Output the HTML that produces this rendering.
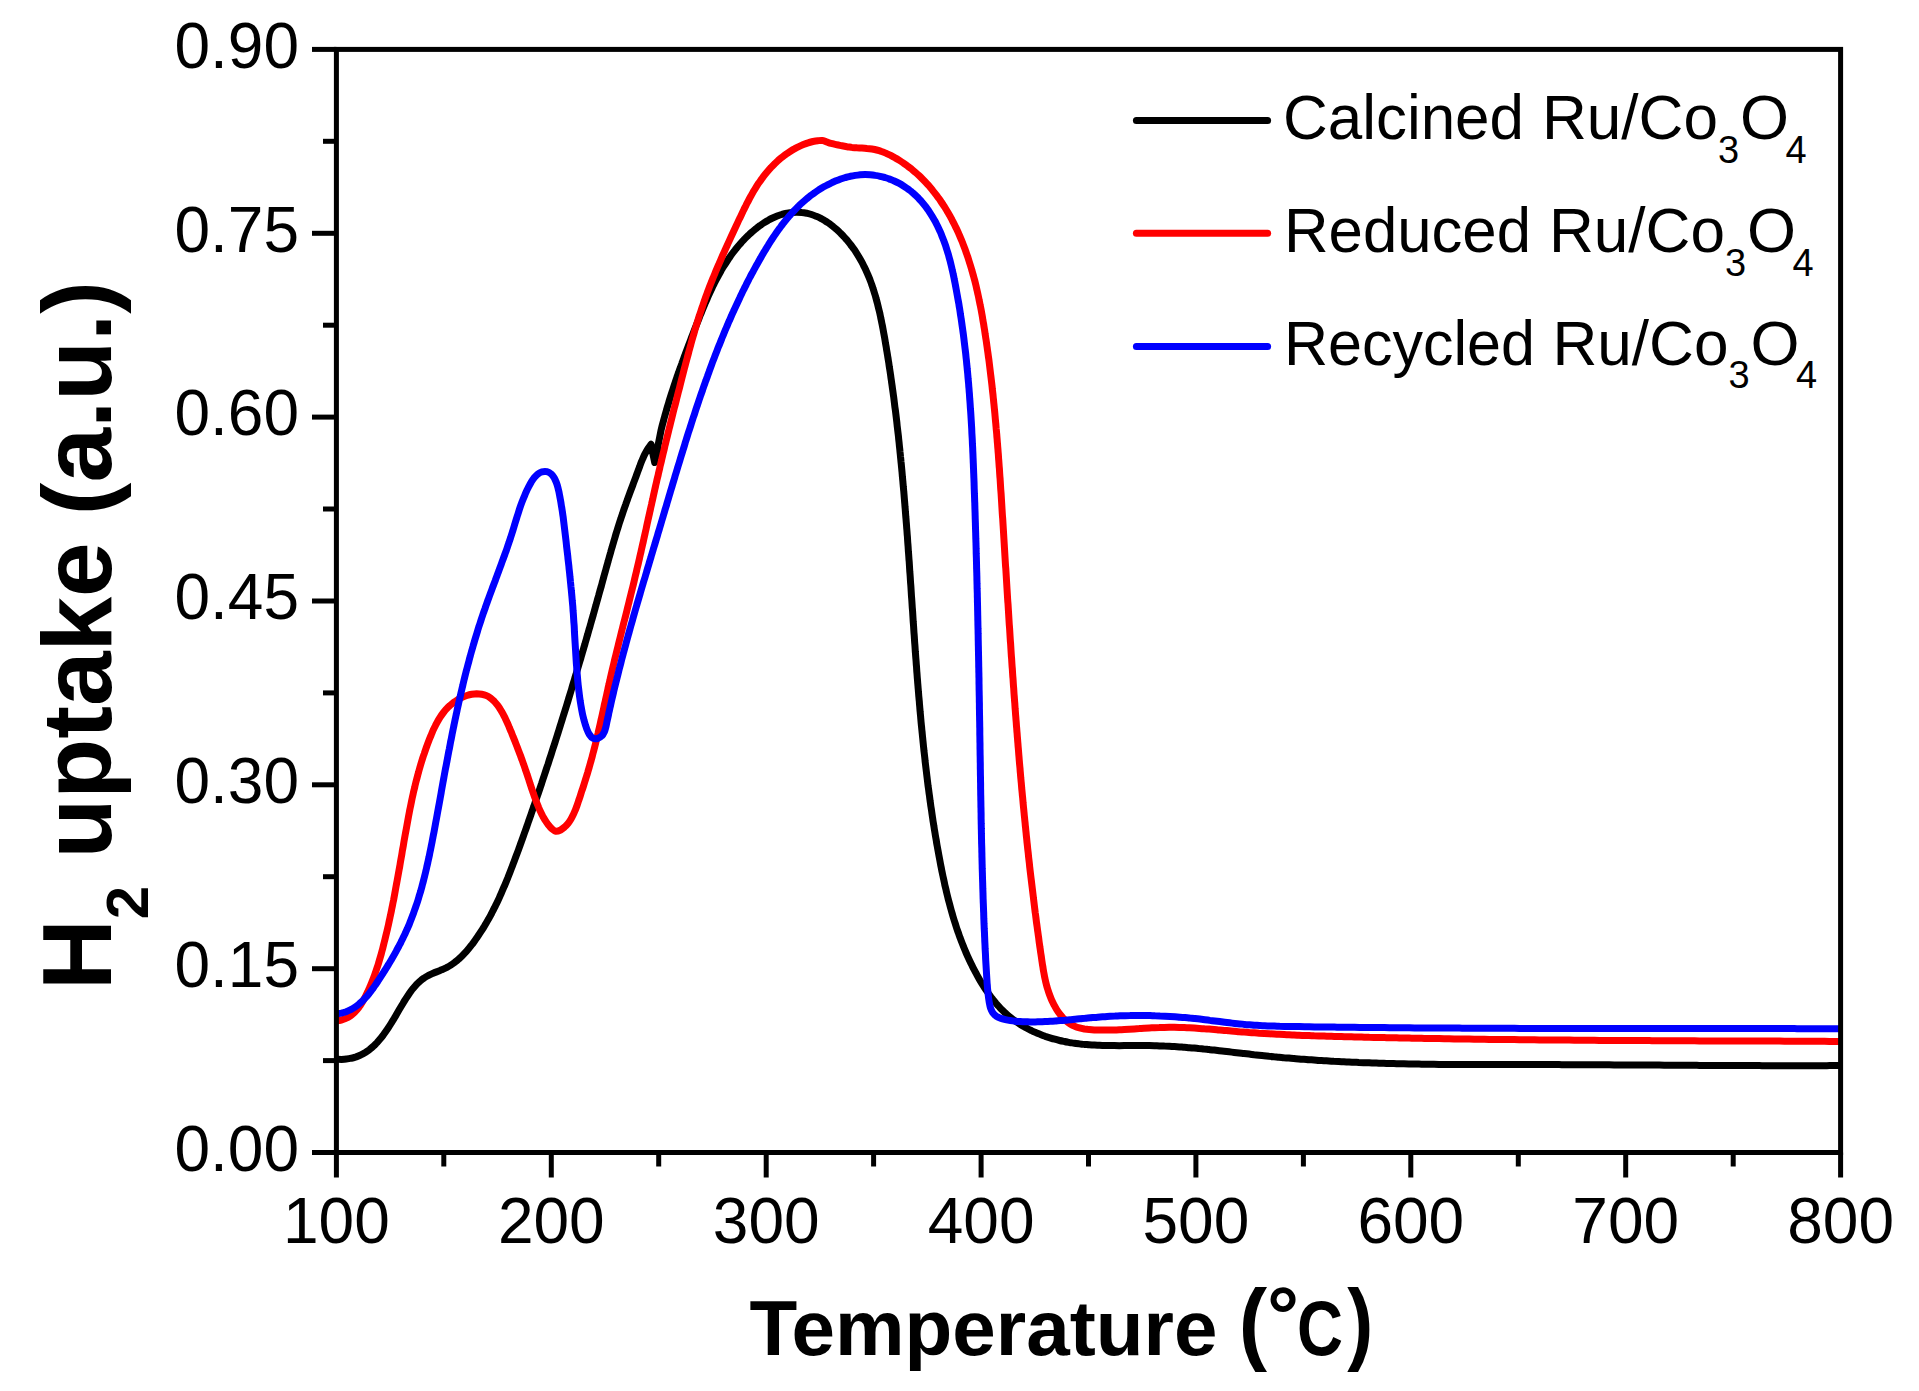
<!DOCTYPE html>
<html lang="en"><head><meta charset="utf-8"><title>H2-TPR profiles</title>
<style>html,body{margin:0;padding:0;background:#fff}body{width:1919px;height:1391px;overflow:hidden}svg{display:block}text{font-family:"Liberation Sans",sans-serif;fill:#000}.b{font-weight:bold}</style></head><body>
<svg width="1919" height="1391" viewBox="0 0 1919 1391">
<rect width="1919" height="1391" fill="#fff"/>
<g fill="none" stroke-width="7" stroke-linejoin="round" stroke-linecap="butt">
<path stroke="#000" d="M336.4 1059.2C337.2 1059.2 339.7 1059.4 341.4 1059.4C343.1 1059.3 344.8 1059.2 346.4 1059.0C348.1 1058.9 349.8 1058.6 351.4 1058.2C353.0 1057.9 354.6 1057.4 356.2 1056.9C357.8 1056.3 359.4 1055.7 360.9 1054.9C362.4 1054.2 363.8 1053.4 365.3 1052.5C366.7 1051.6 368.1 1050.7 369.4 1049.7C370.7 1048.6 372.0 1047.5 373.2 1046.4C374.5 1045.3 375.6 1044.1 376.8 1042.9C377.9 1041.7 379.0 1040.4 380.1 1039.1C381.2 1037.8 382.2 1036.5 383.2 1035.1C384.2 1033.8 385.2 1032.4 386.1 1031.1C387.1 1029.7 388.0 1028.3 388.9 1026.9C389.8 1025.5 390.7 1024.0 391.6 1022.6C392.4 1021.2 393.3 1019.7 394.2 1018.3C395.0 1016.9 395.9 1015.4 396.7 1014.0C397.6 1012.5 398.4 1011.1 399.2 1009.6C400.1 1008.2 400.9 1006.7 401.8 1005.3C402.7 1003.9 403.5 1002.4 404.4 1001.0C405.3 999.6 406.2 998.2 407.1 996.8C408.0 995.4 409.0 994.0 409.9 992.6C410.9 991.3 411.9 989.9 413.0 988.6C414.0 987.3 415.1 986.0 416.2 984.8C417.4 983.6 418.6 982.4 419.8 981.3C421.1 980.2 422.4 979.1 423.8 978.2C425.1 977.2 426.6 976.3 428.1 975.6C429.5 974.8 431.1 974.1 432.6 973.4C434.1 972.8 435.7 972.2 437.3 971.6C438.8 970.9 440.4 970.4 441.9 969.7C443.5 969.0 445.0 968.3 446.5 967.6C448.0 966.8 449.4 966.0 450.8 965.1C452.2 964.2 453.6 963.2 454.9 962.2C456.3 961.2 457.6 960.1 458.8 959.0C460.1 957.9 461.3 956.7 462.5 955.5C463.7 954.3 464.8 953.1 465.9 951.9C467.0 950.6 468.1 949.3 469.2 948.0C470.2 946.7 471.3 945.4 472.3 944.1C473.3 942.7 474.3 941.4 475.3 940.0C476.2 938.7 477.2 937.3 478.1 935.9C479.1 934.5 480.0 933.1 480.9 931.7C481.8 930.3 482.7 928.9 483.6 927.5C484.5 926.0 485.3 924.6 486.2 923.2C487.0 921.7 487.8 920.3 488.7 918.8C489.5 917.3 490.3 915.9 491.1 914.4C491.8 912.9 492.6 911.4 493.4 909.9C494.1 908.4 494.9 906.9 495.6 905.4C496.4 903.9 497.1 902.4 497.8 900.9C498.5 899.4 499.2 897.9 499.9 896.3C500.6 894.8 501.3 893.3 501.9 891.7C502.6 890.2 503.3 888.7 503.9 887.1C504.6 885.6 505.2 884.0 505.9 882.5C506.5 880.9 507.1 879.4 507.8 877.8C508.4 876.3 509.0 874.7 509.6 873.2C510.2 871.6 510.8 870.0 511.4 868.5C512.0 866.9 512.6 865.4 513.2 863.8C513.8 862.2 514.4 860.7 515.0 859.1C515.6 857.5 516.2 855.9 516.7 854.4C517.3 852.8 517.9 851.2 518.5 849.7C519.0 848.1 519.6 846.5 520.2 844.9C520.8 843.4 521.3 841.8 521.9 840.2C522.5 838.6 523.0 837.1 523.6 835.5C524.2 833.9 524.7 832.3 525.3 830.8C525.9 829.2 526.4 827.6 527.0 826.0C527.5 824.4 528.1 822.9 528.6 821.3C529.2 819.7 529.7 818.1 530.3 816.5C530.9 815.0 531.4 813.4 531.9 811.8C532.5 810.2 533.0 808.6 533.6 807.0C534.1 805.5 534.7 803.9 535.2 802.3C535.8 800.7 536.3 799.1 536.8 797.5C537.4 795.9 537.9 794.4 538.5 792.8C539.0 791.2 539.5 789.6 540.1 788.0C540.6 786.4 541.1 784.8 541.7 783.2C542.2 781.7 542.7 780.1 543.2 778.5C543.8 776.9 544.3 775.3 544.8 773.7C545.4 772.1 545.9 770.5 546.4 768.9C546.9 767.3 547.4 765.7 548.0 764.2C548.5 762.6 549.0 761.0 549.5 759.4C550.0 757.8 550.6 756.2 551.1 754.6C551.6 753.0 552.1 751.4 552.6 749.8C553.1 748.2 553.6 746.6 554.2 745.0C554.7 743.4 555.2 741.8 555.7 740.2C556.2 738.7 556.7 737.1 557.2 735.5C557.7 733.9 558.2 732.3 558.7 730.7C559.2 729.1 559.7 727.5 560.2 725.9C560.7 724.3 561.2 722.7 561.7 721.1C562.2 719.5 562.7 717.9 563.2 716.3C563.7 714.7 564.2 713.1 564.7 711.5C565.2 709.9 565.7 708.3 566.2 706.7C566.7 705.1 567.2 703.5 567.7 701.9C568.2 700.3 568.6 698.7 569.1 697.1C569.6 695.5 570.1 693.9 570.6 692.3C571.1 690.7 571.6 689.1 572.0 687.5C572.5 685.8 573.0 684.2 573.5 682.6C574.0 681.0 574.5 679.4 574.9 677.8C575.4 676.2 575.9 674.6 576.4 673.0C576.9 671.4 577.3 669.8 577.8 668.2C578.3 666.6 578.8 665.0 579.2 663.4C579.7 661.8 580.2 660.2 580.7 658.6C581.1 656.9 581.6 655.3 582.1 653.7C582.5 652.1 583.0 650.5 583.5 648.9C583.9 647.3 584.4 645.7 584.9 644.1C585.3 642.5 585.8 640.9 586.3 639.3C586.7 637.6 587.2 636.0 587.7 634.4C588.1 632.8 588.6 631.2 589.0 629.6C589.5 628.0 590.0 626.4 590.4 624.8C590.9 623.2 591.3 621.5 591.8 619.9C592.3 618.3 592.7 616.7 593.2 615.1C593.6 613.5 594.1 611.9 594.5 610.3C595.0 608.6 595.4 607.0 595.9 605.4C596.3 603.8 596.8 602.2 597.2 600.6C597.7 599.0 598.1 597.4 598.6 595.7C599.0 594.1 599.5 592.5 599.9 590.9C600.4 589.3 600.8 587.7 601.3 586.1C601.7 584.4 602.2 582.8 602.6 581.2C603.1 579.6 603.5 578.0 603.9 576.4C604.4 574.8 604.8 573.1 605.3 571.5C605.7 569.9 606.2 568.3 606.6 566.7C607.1 565.1 607.5 563.5 608.0 561.8C608.4 560.2 608.9 558.6 609.3 557.0C609.8 555.4 610.2 553.8 610.7 552.2C611.1 550.6 611.6 548.9 612.1 547.3C612.5 545.7 613.0 544.1 613.5 542.5C613.9 540.9 614.4 539.3 614.9 537.7C615.4 536.1 615.8 534.5 616.3 532.9C616.8 531.3 617.3 529.7 617.8 528.1C618.3 526.5 618.8 524.9 619.3 523.3C619.8 521.7 620.3 520.1 620.9 518.5C621.4 516.9 621.9 515.3 622.5 513.7C623.0 512.1 623.5 510.6 624.1 509.0C624.6 507.4 625.2 505.8 625.8 504.2C626.3 502.7 626.9 501.1 627.5 499.5C628.0 497.9 628.6 496.4 629.2 494.8C629.7 493.2 630.3 491.6 630.9 490.1C631.5 488.5 632.1 486.9 632.7 485.4C633.2 483.8 633.8 482.2 634.4 480.7C635.0 479.1 635.6 477.5 636.2 475.9C636.8 474.4 637.3 472.8 637.9 471.2C638.5 469.7 639.1 468.1 639.7 466.5C640.2 465.0 640.8 463.4 641.4 461.8C642.1 460.3 642.7 458.7 643.4 457.2C644.1 455.7 644.8 454.1 645.6 452.7C646.3 451.2 647.2 449.7 648.1 448.3C649.0 446.9 650.6 445.0 651.1 444.3L652.5 452.0L654.7 462.5L656.8 457.0L658.2 444.7L661.1 430.0C661.3 429.2 661.9 426.8 662.3 425.1C662.7 423.5 663.2 421.9 663.6 420.3C664.0 418.7 664.5 417.1 664.9 415.5C665.4 413.9 665.8 412.3 666.3 410.7C666.8 409.1 667.2 407.5 667.7 405.9C668.2 404.3 668.7 402.7 669.1 401.1C669.6 399.5 670.1 397.9 670.6 396.3C671.1 394.7 671.6 393.1 672.2 391.5C672.7 389.9 673.2 388.3 673.7 386.8C674.2 385.2 674.8 383.6 675.3 382.0C675.8 380.4 676.4 378.8 676.9 377.3C677.5 375.7 678.0 374.1 678.6 372.5C679.1 371.0 679.7 369.4 680.3 367.8C680.8 366.3 681.4 364.7 682.0 363.1C682.5 361.6 683.1 360.0 683.7 358.4C684.3 356.9 684.8 355.3 685.4 353.7C686.0 352.2 686.6 350.6 687.2 349.0C687.8 347.5 688.4 345.9 688.9 344.4C689.5 342.8 690.1 341.2 690.7 339.7C691.3 338.1 691.9 336.6 692.5 335.0C693.1 333.4 693.7 331.9 694.3 330.3C694.9 328.8 695.5 327.2 696.1 325.7C696.7 324.1 697.4 322.6 698.0 321.0C698.6 319.4 699.2 317.9 699.8 316.3C700.4 314.8 701.0 313.2 701.7 311.7C702.3 310.2 702.9 308.6 703.6 307.1C704.2 305.5 704.9 304.0 705.5 302.5C706.2 300.9 706.8 299.4 707.5 297.9C708.2 296.3 708.9 294.8 709.6 293.3C710.2 291.8 711.0 290.3 711.7 288.8C712.4 287.2 713.1 285.7 713.9 284.3C714.6 282.8 715.4 281.3 716.1 279.8C716.9 278.3 717.7 276.8 718.5 275.4C719.3 273.9 720.1 272.5 720.9 271.0C721.8 269.6 722.6 268.1 723.5 266.7C724.4 265.3 725.3 263.9 726.2 262.5C727.1 261.1 728.0 259.7 728.9 258.3C729.9 256.9 730.9 255.6 731.8 254.2C732.8 252.9 733.8 251.5 734.9 250.2C735.9 248.9 737.0 247.6 738.0 246.3C739.1 245.1 740.2 243.8 741.3 242.6C742.4 241.3 743.6 240.1 744.7 238.9C745.9 237.7 747.1 236.5 748.3 235.4C749.5 234.2 750.7 233.1 752.0 232.0C753.2 230.9 754.5 229.8 755.8 228.8C757.1 227.7 758.4 226.7 759.8 225.7C761.1 224.8 762.5 223.8 763.9 222.9C765.3 222.0 766.7 221.1 768.2 220.3C769.6 219.5 771.1 218.7 772.6 218.0C774.1 217.3 775.7 216.6 777.2 216.0C778.8 215.4 780.4 214.8 782.0 214.4C783.6 213.9 785.2 213.5 786.8 213.2C788.5 212.9 790.1 212.6 791.8 212.5C793.4 212.3 795.1 212.2 796.8 212.2C798.4 212.2 800.1 212.3 801.8 212.5C803.4 212.6 805.1 212.9 806.7 213.2C808.3 213.6 810.0 214.0 811.5 214.5C813.1 215.0 814.7 215.6 816.2 216.3C817.8 216.9 819.3 217.6 820.8 218.4C822.2 219.2 823.7 220.0 825.1 220.9C826.5 221.7 827.9 222.7 829.3 223.6C830.6 224.6 832.0 225.6 833.3 226.7C834.6 227.7 835.8 228.8 837.1 229.9C838.3 231.0 839.5 232.2 840.7 233.4C841.9 234.5 843.1 235.7 844.2 237.0C845.3 238.2 846.4 239.5 847.5 240.7C848.6 242.0 849.6 243.3 850.6 244.6C851.6 246.0 852.6 247.3 853.6 248.7C854.6 250.0 855.5 251.4 856.4 252.8C857.3 254.2 858.2 255.6 859.0 257.1C859.9 258.5 860.7 259.9 861.5 261.4C862.3 262.9 863.1 264.4 863.8 265.9C864.6 267.3 865.3 268.9 866.0 270.4C866.7 271.9 867.4 273.4 868.0 275.0C868.7 276.5 869.3 278.0 869.9 279.6C870.5 281.2 871.1 282.7 871.6 284.3C872.2 285.9 872.7 287.4 873.2 289.0C873.8 290.6 874.2 292.2 874.7 293.8C875.2 295.4 875.7 297.0 876.1 298.6C876.6 300.2 877.0 301.8 877.4 303.4C877.8 305.1 878.2 306.7 878.6 308.3C879.0 309.9 879.4 311.6 879.8 313.2C880.1 314.8 880.5 316.4 880.8 318.1C881.2 319.7 881.5 321.3 881.8 323.0C882.2 324.6 882.5 326.3 882.8 327.9C883.1 329.5 883.4 331.2 883.7 332.8C884.0 334.5 884.3 336.1 884.6 337.7C884.9 339.4 885.2 341.0 885.4 342.7C885.7 344.3 886.0 346.0 886.3 347.6C886.5 349.3 886.8 350.9 887.1 352.6C887.4 354.2 887.6 355.9 887.9 357.5C888.2 359.1 888.4 360.8 888.7 362.4C888.9 364.1 889.2 365.7 889.4 367.4C889.7 369.0 889.9 370.7 890.2 372.3C890.4 374.0 890.7 375.6 890.9 377.3C891.1 378.9 891.4 380.6 891.6 382.3C891.9 383.9 892.1 385.6 892.3 387.2C892.5 388.9 892.8 390.5 893.0 392.2C893.2 393.8 893.4 395.5 893.7 397.1C893.9 398.8 894.1 400.4 894.3 402.1C894.5 403.8 894.7 405.4 894.9 407.1C895.2 408.7 895.4 410.4 895.6 412.0C895.8 413.7 896.0 415.3 896.2 417.0C896.4 418.7 896.6 420.3 896.8 422.0C897.0 423.6 897.1 425.3 897.3 426.9C897.5 428.6 897.7 430.3 897.9 431.9C898.1 433.6 898.3 435.2 898.5 436.9C898.6 438.6 898.8 440.2 899.0 441.9C899.2 443.5 899.3 445.2 899.5 446.9C899.7 448.5 899.9 450.2 900.0 451.8C900.2 453.5 900.4 455.2 900.5 456.8C900.7 458.5 900.9 460.1 901.0 461.8C901.2 463.5 901.4 465.1 901.5 466.8C901.7 468.4 901.8 470.1 902.0 471.8C902.1 473.4 902.3 475.1 902.4 476.7C902.6 478.4 902.7 480.1 902.9 481.7C903.0 483.4 903.2 485.1 903.3 486.7C903.5 488.4 903.6 490.0 903.8 491.7C903.9 493.4 904.1 495.0 904.2 496.7C904.3 498.4 904.5 500.0 904.6 501.7C904.8 503.3 904.9 505.0 905.0 506.7C905.2 508.3 905.3 510.0 905.4 511.7C905.6 513.3 905.7 515.0 905.8 516.7C906.0 518.3 906.1 520.0 906.2 521.6C906.4 523.3 906.5 525.0 906.6 526.6C906.7 528.3 906.9 530.0 907.0 531.6C907.1 533.3 907.2 535.0 907.4 536.6C907.5 538.3 907.6 540.0 907.7 541.6C907.8 543.3 908.0 544.9 908.1 546.6C908.2 548.3 908.3 549.9 908.4 551.6C908.6 553.3 908.7 554.9 908.8 556.6C908.9 558.3 909.0 559.9 909.2 561.6C909.3 563.3 909.4 564.9 909.5 566.6C909.6 568.3 909.7 569.9 909.8 571.6C910.0 573.2 910.1 574.9 910.2 576.6C910.3 578.2 910.4 579.9 910.5 581.6C910.6 583.2 910.8 584.9 910.9 586.6C911.0 588.2 911.1 589.9 911.2 591.6C911.3 593.2 911.4 594.9 911.5 596.6C911.7 598.2 911.8 599.9 911.9 601.6C912.0 603.2 912.1 604.9 912.2 606.5C912.3 608.2 912.5 609.9 912.6 611.5C912.7 613.2 912.8 614.9 912.9 616.5C913.0 618.2 913.1 619.9 913.2 621.5C913.4 623.2 913.5 624.9 913.6 626.5C913.7 628.2 913.8 629.9 913.9 631.5C914.0 633.2 914.2 634.9 914.3 636.5C914.4 638.2 914.5 639.8 914.6 641.5C914.7 643.2 914.9 644.8 915.0 646.5C915.1 648.2 915.2 649.8 915.3 651.5C915.5 653.2 915.6 654.8 915.7 656.5C915.8 658.2 916.0 659.8 916.1 661.5C916.2 663.2 916.3 664.8 916.5 666.5C916.6 668.1 916.7 669.8 916.8 671.5C917.0 673.1 917.1 674.8 917.2 676.5C917.3 678.1 917.5 679.8 917.6 681.5C917.7 683.1 917.9 684.8 918.0 686.4C918.1 688.1 918.3 689.8 918.4 691.4C918.6 693.1 918.7 694.8 918.8 696.4C919.0 698.1 919.1 699.7 919.3 701.4C919.4 703.1 919.5 704.7 919.7 706.4C919.8 708.1 920.0 709.7 920.1 711.4C920.3 713.0 920.4 714.7 920.6 716.4C920.7 718.0 920.9 719.7 921.0 721.4C921.2 723.0 921.3 724.7 921.5 726.3C921.7 728.0 921.8 729.7 922.0 731.3C922.2 733.0 922.3 734.6 922.5 736.3C922.7 738.0 922.8 739.6 923.0 741.3C923.2 743.0 923.3 744.6 923.5 746.3C923.7 747.9 923.9 749.6 924.0 751.2C924.2 752.9 924.4 754.6 924.6 756.2C924.8 757.9 925.0 759.5 925.1 761.2C925.3 762.9 925.5 764.5 925.7 766.2C925.9 767.8 926.1 769.5 926.3 771.1C926.5 772.8 926.7 774.5 926.9 776.1C927.1 777.8 927.3 779.4 927.5 781.1C927.7 782.7 927.9 784.4 928.1 786.1C928.4 787.7 928.6 789.4 928.8 791.0C929.0 792.7 929.2 794.3 929.5 796.0C929.7 797.6 929.9 799.3 930.1 800.9C930.4 802.6 930.6 804.2 930.8 805.9C931.1 807.5 931.3 809.2 931.6 810.9C931.8 812.5 932.0 814.2 932.3 815.8C932.5 817.5 932.8 819.1 933.0 820.8C933.3 822.4 933.6 824.1 933.8 825.7C934.1 827.3 934.3 829.0 934.6 830.6C934.9 832.3 935.1 833.9 935.4 835.6C935.7 837.2 936.0 838.9 936.3 840.5C936.5 842.2 936.8 843.8 937.1 845.5C937.4 847.1 937.7 848.7 938.0 850.4C938.3 852.0 938.6 853.7 938.9 855.3C939.2 857.0 939.5 858.6 939.8 860.2C940.1 861.9 940.4 863.5 940.7 865.1C941.1 866.8 941.4 868.4 941.7 870.1C942.0 871.7 942.4 873.3 942.7 875.0C943.1 876.6 943.4 878.2 943.8 879.9C944.1 881.5 944.5 883.1 944.8 884.8C945.2 886.4 945.6 888.0 946.0 889.6C946.3 891.3 946.7 892.9 947.1 894.5C947.5 896.1 947.9 897.7 948.3 899.4C948.7 901.0 949.2 902.6 949.6 904.2C950.0 905.8 950.4 907.4 950.9 909.0C951.3 910.6 951.8 912.3 952.3 913.9C952.7 915.5 953.2 917.1 953.7 918.7C954.2 920.2 954.7 921.8 955.2 923.4C955.7 925.0 956.2 926.6 956.7 928.2C957.3 929.8 957.8 931.4 958.4 932.9C958.9 934.5 959.5 936.1 960.0 937.6C960.6 939.2 961.2 940.8 961.8 942.3C962.4 943.9 963.0 945.4 963.7 947.0C964.3 948.5 964.9 950.1 965.6 951.6C966.2 953.1 966.9 954.7 967.6 956.2C968.3 957.7 969.0 959.2 969.7 960.7C970.4 962.2 971.1 963.7 971.9 965.2C972.6 966.7 973.3 968.2 974.1 969.7C974.9 971.2 975.7 972.7 976.5 974.1C977.3 975.6 978.1 977.1 978.9 978.5C979.7 979.9 980.6 981.4 981.4 982.8C982.3 984.2 983.2 985.7 984.1 987.1C985.0 988.5 985.9 989.9 986.9 991.2C987.8 992.6 988.8 994.0 989.8 995.3C990.7 996.7 991.7 998.0 992.8 999.3C993.8 1000.6 994.9 1001.9 995.9 1003.2C997.0 1004.5 998.1 1005.7 999.3 1006.9C1000.4 1008.2 1001.6 1009.4 1002.7 1010.5C1003.9 1011.7 1005.1 1012.9 1006.4 1014.0C1007.6 1015.1 1008.9 1016.2 1010.2 1017.2C1011.5 1018.3 1012.8 1019.3 1014.2 1020.3C1015.5 1021.3 1016.9 1022.2 1018.3 1023.1C1019.7 1024.0 1021.1 1024.9 1022.5 1025.8C1024.0 1026.6 1025.4 1027.5 1026.9 1028.2C1028.3 1029.0 1029.8 1029.8 1031.3 1030.5C1032.8 1031.3 1034.4 1032.0 1035.9 1032.6C1037.4 1033.3 1039.0 1033.9 1040.5 1034.5C1042.1 1035.1 1043.6 1035.7 1045.2 1036.3C1046.8 1036.8 1048.4 1037.3 1050.0 1037.8C1051.6 1038.3 1053.2 1038.8 1054.8 1039.2C1056.4 1039.7 1058.0 1040.1 1059.6 1040.5C1061.2 1040.9 1062.9 1041.2 1064.5 1041.5C1066.1 1041.9 1067.8 1042.2 1069.4 1042.5C1071.1 1042.7 1072.7 1043.0 1074.4 1043.2C1076.0 1043.5 1077.7 1043.7 1079.3 1043.9C1081.0 1044.1 1082.7 1044.2 1084.3 1044.4C1086.0 1044.5 1087.6 1044.7 1089.3 1044.8C1091.0 1044.9 1092.6 1045.0 1094.3 1045.1C1096.0 1045.2 1097.6 1045.3 1099.3 1045.3C1101.0 1045.4 1102.6 1045.5 1104.3 1045.5C1106.0 1045.5 1107.7 1045.6 1109.3 1045.6C1111.0 1045.6 1112.7 1045.6 1114.3 1045.6C1116.0 1045.7 1117.7 1045.7 1119.3 1045.7C1121.0 1045.7 1122.7 1045.7 1124.3 1045.6C1126.0 1045.6 1127.7 1045.6 1129.3 1045.6C1131.0 1045.6 1132.7 1045.6 1134.4 1045.6C1136.0 1045.6 1137.7 1045.6 1139.4 1045.6C1141.0 1045.6 1142.7 1045.6 1144.4 1045.6C1146.0 1045.6 1147.7 1045.6 1149.4 1045.6C1151.0 1045.7 1152.7 1045.7 1154.4 1045.7C1156.0 1045.8 1157.7 1045.8 1159.4 1045.9C1161.0 1045.9 1162.7 1046.0 1164.4 1046.1C1166.1 1046.1 1167.7 1046.2 1169.4 1046.3C1171.1 1046.4 1172.7 1046.5 1174.4 1046.6C1176.0 1046.7 1177.7 1046.8 1179.4 1046.9C1181.0 1047.0 1182.7 1047.2 1184.4 1047.3C1186.0 1047.4 1187.7 1047.6 1189.4 1047.7C1191.0 1047.8 1192.7 1048.0 1194.3 1048.1C1196.0 1048.3 1197.7 1048.4 1199.3 1048.6C1201.0 1048.8 1202.7 1048.9 1204.3 1049.1C1206.0 1049.3 1207.6 1049.4 1209.3 1049.6C1211.0 1049.8 1212.6 1050.0 1214.3 1050.1C1215.9 1050.3 1217.6 1050.5 1219.3 1050.7C1220.9 1050.9 1222.6 1051.1 1224.2 1051.2C1225.9 1051.4 1227.5 1051.6 1229.2 1051.8C1230.9 1052.0 1232.5 1052.2 1234.2 1052.4C1235.8 1052.6 1237.5 1052.8 1239.1 1053.0C1240.8 1053.2 1242.5 1053.3 1244.1 1053.5C1245.8 1053.7 1247.4 1053.9 1249.1 1054.1C1250.8 1054.3 1252.4 1054.5 1254.1 1054.7C1255.7 1054.8 1257.4 1055.0 1259.0 1055.2C1260.7 1055.4 1262.4 1055.6 1264.0 1055.7C1265.7 1055.9 1267.3 1056.1 1269.0 1056.3C1270.7 1056.4 1272.3 1056.6 1274.0 1056.8C1275.6 1056.9 1277.3 1057.1 1279.0 1057.2C1280.6 1057.4 1282.3 1057.5 1284.0 1057.7C1285.6 1057.8 1287.3 1058.0 1288.9 1058.1C1290.6 1058.3 1292.3 1058.4 1293.9 1058.5C1295.6 1058.7 1297.3 1058.8 1298.9 1058.9C1300.6 1059.1 1302.3 1059.2 1303.9 1059.3C1305.6 1059.4 1307.2 1059.6 1308.9 1059.7C1310.6 1059.8 1312.2 1059.9 1313.9 1060.0C1315.6 1060.1 1317.2 1060.3 1318.9 1060.4C1320.6 1060.5 1322.2 1060.6 1323.9 1060.7C1325.6 1060.8 1327.2 1060.9 1328.9 1061.0C1330.6 1061.1 1332.2 1061.2 1333.9 1061.3C1335.6 1061.3 1337.2 1061.4 1338.9 1061.5C1340.6 1061.6 1342.2 1061.7 1343.9 1061.8C1345.6 1061.9 1347.2 1061.9 1348.9 1062.0C1350.6 1062.1 1352.2 1062.2 1353.9 1062.2C1355.6 1062.3 1357.2 1062.4 1358.9 1062.5C1360.6 1062.5 1362.2 1062.6 1363.9 1062.7C1365.6 1062.7 1367.2 1062.8 1368.9 1062.8C1370.6 1062.9 1372.2 1063.0 1373.9 1063.0C1375.6 1063.1 1377.2 1063.1 1378.9 1063.2C1380.6 1063.2 1382.2 1063.3 1383.9 1063.3C1385.6 1063.4 1387.3 1063.4 1388.9 1063.5C1390.6 1063.5 1392.3 1063.6 1393.9 1063.6C1395.6 1063.6 1397.3 1063.7 1398.9 1063.7C1400.6 1063.8 1402.3 1063.8 1403.9 1063.8C1405.6 1063.9 1407.3 1063.9 1408.9 1063.9C1410.6 1064.0 1412.3 1064.0 1413.9 1064.0C1415.6 1064.1 1417.3 1064.1 1419.0 1064.1C1420.6 1064.1 1422.3 1064.2 1424.0 1064.2C1425.6 1064.2 1427.3 1064.2 1429.0 1064.2C1430.6 1064.3 1432.3 1064.3 1434.0 1064.3C1435.6 1064.3 1437.3 1064.3 1439.0 1064.4C1440.6 1064.4 1442.3 1064.4 1444.0 1064.4C1445.7 1064.4 1447.3 1064.4 1449.0 1064.5C1450.7 1064.5 1452.3 1064.5 1454.0 1064.5C1455.7 1064.5 1457.3 1064.5 1459.0 1064.5C1460.7 1064.5 1462.3 1064.5 1464.0 1064.5C1465.7 1064.6 1467.3 1064.6 1469.0 1064.6C1470.7 1064.6 1472.4 1064.6 1474.0 1064.6C1475.7 1064.6 1477.4 1064.6 1479.0 1064.6C1480.7 1064.6 1482.4 1064.6 1484.0 1064.6C1485.7 1064.6 1487.4 1064.6 1489.0 1064.6C1490.7 1064.6 1492.4 1064.6 1494.0 1064.6C1495.7 1064.6 1497.4 1064.6 1499.1 1064.6C1500.7 1064.6 1502.4 1064.6 1504.1 1064.6C1505.7 1064.6 1507.4 1064.6 1509.1 1064.6C1510.7 1064.6 1512.4 1064.6 1514.1 1064.6C1515.7 1064.6 1517.4 1064.6 1519.1 1064.6C1520.8 1064.6 1522.4 1064.6 1524.1 1064.6C1525.8 1064.6 1527.4 1064.6 1529.1 1064.6C1530.8 1064.6 1532.4 1064.6 1534.1 1064.6C1535.8 1064.6 1537.4 1064.6 1539.1 1064.6C1540.8 1064.6 1542.4 1064.6 1544.1 1064.6C1545.8 1064.6 1547.5 1064.6 1549.1 1064.6C1550.8 1064.6 1552.5 1064.6 1554.1 1064.6C1555.8 1064.6 1557.5 1064.6 1559.1 1064.6C1560.8 1064.6 1562.5 1064.7 1564.1 1064.7C1565.8 1064.7 1567.5 1064.7 1569.1 1064.7C1570.8 1064.7 1572.5 1064.7 1574.2 1064.7C1575.8 1064.7 1577.5 1064.7 1579.2 1064.7C1580.8 1064.7 1582.5 1064.7 1584.2 1064.7C1585.8 1064.7 1587.5 1064.7 1589.2 1064.7C1590.8 1064.7 1592.5 1064.8 1594.2 1064.8C1595.8 1064.8 1597.5 1064.8 1599.2 1064.8C1600.9 1064.8 1602.5 1064.8 1604.2 1064.8C1605.9 1064.8 1607.5 1064.8 1609.2 1064.8C1610.9 1064.8 1612.5 1064.8 1614.2 1064.9C1615.9 1064.9 1617.5 1064.9 1619.2 1064.9C1620.9 1064.9 1622.6 1064.9 1624.2 1064.9C1625.9 1064.9 1627.6 1064.9 1629.2 1064.9C1630.9 1065.0 1632.6 1065.0 1634.2 1065.0C1635.9 1065.0 1637.6 1065.0 1639.2 1065.0C1640.9 1065.0 1642.6 1065.0 1644.2 1065.0C1645.9 1065.0 1647.6 1065.0 1649.3 1065.1C1650.9 1065.1 1652.6 1065.1 1654.3 1065.1C1655.9 1065.1 1657.6 1065.1 1659.3 1065.1C1660.9 1065.1 1662.6 1065.1 1664.3 1065.2C1665.9 1065.2 1667.6 1065.2 1669.3 1065.2C1670.9 1065.2 1672.6 1065.2 1674.3 1065.2C1676.0 1065.2 1677.6 1065.2 1679.3 1065.2C1681.0 1065.3 1682.6 1065.3 1684.3 1065.3C1686.0 1065.3 1687.6 1065.3 1689.3 1065.3C1691.0 1065.3 1692.6 1065.3 1694.3 1065.3C1696.0 1065.3 1697.6 1065.4 1699.3 1065.4C1701.0 1065.4 1702.7 1065.4 1704.3 1065.4C1706.0 1065.4 1707.7 1065.4 1709.3 1065.4C1711.0 1065.4 1712.7 1065.4 1714.3 1065.4C1716.0 1065.5 1717.7 1065.5 1719.3 1065.5C1721.0 1065.5 1722.7 1065.5 1724.3 1065.5C1726.0 1065.5 1727.7 1065.5 1729.4 1065.5C1731.0 1065.5 1732.7 1065.5 1734.4 1065.5C1736.0 1065.6 1737.7 1065.6 1739.4 1065.6C1741.0 1065.6 1742.7 1065.6 1744.4 1065.6C1746.0 1065.6 1747.7 1065.6 1749.4 1065.6C1751.1 1065.6 1752.7 1065.6 1754.4 1065.6C1756.1 1065.6 1757.7 1065.6 1759.4 1065.6C1761.1 1065.6 1762.7 1065.7 1764.4 1065.7C1766.1 1065.7 1767.7 1065.7 1769.4 1065.7C1771.1 1065.7 1772.7 1065.7 1774.4 1065.7C1776.1 1065.7 1777.8 1065.7 1779.4 1065.7C1781.1 1065.7 1782.8 1065.7 1784.4 1065.7C1786.1 1065.7 1787.8 1065.7 1789.4 1065.7C1791.1 1065.7 1792.8 1065.7 1794.4 1065.7C1796.1 1065.7 1797.8 1065.7 1799.4 1065.7C1801.1 1065.7 1802.8 1065.7 1804.5 1065.7C1806.1 1065.7 1807.8 1065.7 1809.5 1065.7C1811.1 1065.7 1812.8 1065.7 1814.5 1065.7C1816.1 1065.7 1817.8 1065.7 1819.5 1065.7C1821.1 1065.7 1822.8 1065.7 1824.5 1065.7C1826.1 1065.7 1827.8 1065.6 1829.5 1065.6C1831.2 1065.6 1832.8 1065.6 1834.5 1065.6C1836.2 1065.6 1838.7 1065.6 1839.5 1065.6"/>
<path stroke="#f00" d="M336.4 1020.8C337.2 1020.7 339.7 1020.4 341.3 1020.0C342.9 1019.6 344.5 1019.0 346.0 1018.3C347.6 1017.7 349.0 1016.8 350.4 1015.8C351.7 1014.9 353.0 1013.8 354.2 1012.7C355.4 1011.5 356.5 1010.3 357.6 1009.0C358.7 1007.7 359.6 1006.3 360.6 1004.9C361.5 1003.6 362.3 1002.1 363.2 1000.7C364.0 999.2 364.8 997.7 365.5 996.3C366.3 994.8 367.0 993.3 367.7 991.8C368.4 990.2 369.1 988.7 369.8 987.2C370.4 985.7 371.1 984.1 371.7 982.6C372.3 981.0 372.9 979.5 373.5 977.9C374.1 976.4 374.7 974.8 375.2 973.2C375.8 971.6 376.3 970.1 376.8 968.5C377.4 966.9 377.9 965.3 378.4 963.7C378.9 962.1 379.3 960.5 379.8 958.9C380.3 957.3 380.7 955.7 381.2 954.1C381.6 952.5 382.0 950.9 382.5 949.3C382.9 947.7 383.3 946.0 383.7 944.4C384.1 942.8 384.5 941.2 384.9 939.6C385.3 938.0 385.7 936.3 386.1 934.7C386.5 933.1 386.9 931.5 387.3 929.8C387.6 928.2 388.0 926.6 388.4 925.0C388.7 923.3 389.1 921.7 389.4 920.1C389.8 918.4 390.1 916.8 390.5 915.2C390.8 913.5 391.2 911.9 391.5 910.3C391.8 908.6 392.2 907.0 392.5 905.4C392.8 903.7 393.1 902.1 393.5 900.5C393.8 898.8 394.1 897.2 394.4 895.6C394.7 893.9 395.0 892.3 395.3 890.6C395.6 889.0 395.9 887.4 396.2 885.7C396.5 884.1 396.8 882.4 397.1 880.8C397.4 879.1 397.7 877.5 398.0 875.9C398.3 874.2 398.6 872.6 398.9 870.9C399.2 869.3 399.5 867.7 399.8 866.0C400.1 864.4 400.3 862.7 400.6 861.1C400.9 859.4 401.2 857.8 401.5 856.2C401.8 854.5 402.1 852.9 402.3 851.2C402.6 849.6 402.9 847.9 403.2 846.3C403.5 844.6 403.8 843.0 404.0 841.4C404.3 839.7 404.6 838.1 404.9 836.4C405.2 834.8 405.5 833.1 405.8 831.5C406.1 829.9 406.4 828.2 406.7 826.6C407.0 824.9 407.3 823.3 407.6 821.7C407.9 820.0 408.2 818.4 408.5 816.7C408.8 815.1 409.1 813.5 409.4 811.8C409.7 810.2 410.1 808.5 410.4 806.9C410.7 805.3 411.1 803.6 411.4 802.0C411.7 800.4 412.1 798.7 412.4 797.1C412.8 795.5 413.2 793.9 413.5 792.2C413.9 790.6 414.3 789.0 414.7 787.4C415.0 785.7 415.4 784.1 415.8 782.5C416.2 780.9 416.7 779.3 417.1 777.6C417.5 776.0 417.9 774.4 418.4 772.8C418.8 771.2 419.3 769.6 419.7 768.0C420.2 766.4 420.6 764.8 421.1 763.2C421.6 761.6 422.1 760.0 422.6 758.4C423.1 756.8 423.6 755.2 424.2 753.7C424.7 752.1 425.2 750.5 425.8 748.9C426.4 747.4 426.9 745.8 427.5 744.2C428.1 742.7 428.7 741.1 429.3 739.5C429.9 738.0 430.5 736.4 431.2 734.9C431.8 733.4 432.5 731.8 433.1 730.3C433.8 728.8 434.5 727.3 435.3 725.8C436.0 724.3 436.8 722.8 437.6 721.4C438.5 719.9 439.3 718.5 440.2 717.1C441.1 715.7 442.1 714.3 443.1 713.0C444.1 711.7 445.2 710.4 446.3 709.1C447.4 707.9 448.6 706.7 449.8 705.6C451.0 704.4 452.3 703.4 453.6 702.4C455.0 701.4 456.4 700.5 457.8 699.6C459.2 698.8 460.7 698.0 462.2 697.3C463.8 696.6 465.3 696.0 466.9 695.5C468.5 695.0 470.1 694.6 471.8 694.3C473.4 694.1 475.1 693.9 476.7 693.8C478.4 693.8 480.1 693.9 481.7 694.2C483.3 694.5 485.0 695.0 486.5 695.7C488.0 696.4 489.4 697.3 490.8 698.2C492.1 699.2 493.3 700.4 494.5 701.6C495.7 702.8 496.7 704.1 497.7 705.4C498.7 706.7 499.6 708.1 500.5 709.6C501.4 711.0 502.2 712.4 503.0 713.9C503.8 715.4 504.5 716.9 505.3 718.4C506.0 719.9 506.7 721.4 507.4 722.9C508.0 724.4 508.7 726.0 509.3 727.5C510.0 729.0 510.6 730.6 511.3 732.1C511.9 733.7 512.5 735.2 513.1 736.8C513.8 738.3 514.4 739.9 515.0 741.4C515.6 743.0 516.2 744.5 516.8 746.1C517.4 747.6 518.0 749.2 518.6 750.7C519.2 752.3 519.8 753.9 520.4 755.4C521.0 757.0 521.5 758.5 522.1 760.1C522.7 761.7 523.2 763.3 523.8 764.8C524.3 766.4 524.9 768.0 525.4 769.6C526.0 771.1 526.5 772.7 527.0 774.3C527.6 775.9 528.1 777.5 528.6 779.0C529.1 780.6 529.6 782.2 530.1 783.8C530.7 785.4 531.2 787.0 531.7 788.6C532.2 790.1 532.8 791.7 533.3 793.3C533.9 794.9 534.4 796.5 535.0 798.0C535.6 799.6 536.1 801.1 536.7 802.7C537.4 804.3 538.0 805.8 538.6 807.3C539.3 808.9 540.0 810.4 540.7 811.9C541.4 813.4 542.1 814.9 542.9 816.4C543.7 817.8 544.5 819.3 545.4 820.7C546.3 822.1 547.3 823.5 548.3 824.8C549.4 826.1 550.4 827.5 551.6 828.5C552.9 829.6 554.3 830.9 555.8 831.2C557.3 831.4 559.1 830.7 560.6 830.0C562.0 829.3 563.3 828.1 564.6 827.0C565.8 825.9 567.0 824.6 568.0 823.4C569.1 822.1 570.0 820.7 570.9 819.2C571.7 817.8 572.5 816.3 573.2 814.8C574.0 813.3 574.6 811.8 575.2 810.3C575.9 808.7 576.4 807.1 577.0 805.6C577.6 804.0 578.1 802.4 578.6 800.8C579.1 799.3 579.7 797.7 580.2 796.1C580.7 794.5 581.2 792.9 581.7 791.3C582.3 789.7 582.8 788.2 583.3 786.6C583.8 785.0 584.3 783.4 584.8 781.8C585.3 780.2 585.8 778.6 586.3 777.0C586.8 775.4 587.3 773.8 587.8 772.2C588.2 770.6 588.7 769.0 589.2 767.4C589.6 765.8 590.1 764.2 590.5 762.6C591.0 761.0 591.4 759.4 591.9 757.8C592.3 756.2 592.7 754.6 593.1 753.0C593.6 751.4 594.0 749.7 594.4 748.1C594.8 746.5 595.2 744.9 595.6 743.3C596.0 741.6 596.4 740.0 596.8 738.4C597.2 736.8 597.6 735.2 598.0 733.5C598.3 731.9 598.7 730.3 599.1 728.7C599.5 727.0 599.8 725.4 600.2 723.8C600.6 722.2 600.9 720.5 601.3 718.9C601.7 717.3 602.0 715.7 602.4 714.0C602.8 712.4 603.1 710.8 603.5 709.1C603.8 707.5 604.2 705.9 604.5 704.2C604.9 702.6 605.3 701.0 605.6 699.4C606.0 697.7 606.3 696.1 606.7 694.5C607.1 692.8 607.4 691.2 607.8 689.6C608.1 688.0 608.5 686.3 608.9 684.7C609.2 683.1 609.6 681.5 610.0 679.8C610.3 678.2 610.7 676.6 611.1 674.9C611.5 673.3 611.8 671.7 612.2 670.1C612.6 668.5 613.0 666.8 613.4 665.2C613.8 663.6 614.1 662.0 614.5 660.3C614.9 658.7 615.3 657.1 615.7 655.5C616.1 653.9 616.5 652.2 616.9 650.6C617.3 649.0 617.7 647.4 618.1 645.8C618.5 644.1 618.9 642.5 619.3 640.9C619.7 639.3 620.1 637.7 620.5 636.0C620.9 634.4 621.3 632.8 621.7 631.2C622.1 629.6 622.5 627.9 622.9 626.3C623.3 624.7 623.7 623.1 624.1 621.5C624.5 619.9 625.0 618.2 625.4 616.6C625.8 615.0 626.2 613.4 626.6 611.8C627.0 610.2 627.4 608.5 627.8 606.9C628.2 605.3 628.6 603.7 629.0 602.1C629.4 600.4 629.8 598.8 630.2 597.2C630.6 595.6 631.0 594.0 631.4 592.3C631.8 590.7 632.2 589.1 632.6 587.5C633.0 585.9 633.4 584.2 633.8 582.6C634.2 581.0 634.5 579.4 634.9 577.8C635.3 576.1 635.7 574.5 636.1 572.9C636.5 571.3 636.8 569.6 637.2 568.0C637.6 566.4 638.0 564.8 638.4 563.1C638.7 561.5 639.1 559.9 639.5 558.3C639.9 556.6 640.2 555.0 640.6 553.4C641.0 551.8 641.3 550.1 641.7 548.5C642.1 546.9 642.4 545.3 642.8 543.6C643.2 542.0 643.5 540.4 643.9 538.7C644.3 537.1 644.6 535.5 645.0 533.9C645.3 532.2 645.7 530.6 646.1 529.0C646.4 527.3 646.8 525.7 647.1 524.1C647.5 522.5 647.9 520.8 648.2 519.2C648.6 517.6 648.9 515.9 649.3 514.3C649.7 512.7 650.0 511.1 650.4 509.4C650.7 507.8 651.1 506.2 651.5 504.5C651.8 502.9 652.2 501.3 652.6 499.7C652.9 498.0 653.3 496.4 653.6 494.8C654.0 493.1 654.4 491.5 654.7 489.9C655.1 488.3 655.5 486.6 655.8 485.0C656.2 483.4 656.6 481.8 656.9 480.1C657.3 478.5 657.7 476.9 658.1 475.3C658.4 473.6 658.8 472.0 659.2 470.4C659.6 468.8 659.9 467.1 660.3 465.5C660.7 463.9 661.1 462.3 661.5 460.6C661.8 459.0 662.2 457.4 662.6 455.8C663.0 454.1 663.4 452.5 663.8 450.9C664.2 449.3 664.5 447.7 664.9 446.0C665.3 444.4 665.7 442.8 666.1 441.2C666.5 439.5 666.9 437.9 667.3 436.3C667.7 434.7 668.1 433.1 668.5 431.4C668.9 429.8 669.3 428.2 669.7 426.6C670.1 425.0 670.5 423.3 670.9 421.7C671.3 420.1 671.7 418.5 672.1 416.9C672.5 415.3 672.9 413.6 673.3 412.0C673.7 410.4 674.1 408.8 674.5 407.2C675.0 405.6 675.4 403.9 675.8 402.3C676.2 400.7 676.6 399.1 677.0 397.5C677.4 395.9 677.8 394.2 678.2 392.6C678.6 391.0 679.1 389.4 679.5 387.8C679.9 386.2 680.3 384.5 680.7 382.9C681.1 381.3 681.5 379.7 681.9 378.1C682.4 376.5 682.8 374.8 683.2 373.2C683.6 371.6 684.0 370.0 684.4 368.4C684.9 366.8 685.3 365.2 685.7 363.5C686.1 361.9 686.5 360.3 687.0 358.7C687.4 357.1 687.8 355.5 688.3 353.9C688.7 352.3 689.1 350.6 689.6 349.0C690.0 347.4 690.4 345.8 690.9 344.2C691.3 342.6 691.8 341.0 692.2 339.4C692.7 337.8 693.1 336.2 693.6 334.6C694.1 333.0 694.5 331.4 695.0 329.8C695.5 328.2 696.0 326.6 696.4 325.0C696.9 323.4 697.4 321.8 697.9 320.2C698.4 318.6 698.9 317.0 699.4 315.4C699.9 313.8 700.5 312.3 701.0 310.7C701.5 309.1 702.0 307.5 702.6 305.9C703.1 304.3 703.7 302.8 704.2 301.2C704.8 299.6 705.3 298.1 705.9 296.5C706.5 294.9 707.1 293.4 707.6 291.8C708.2 290.2 708.8 288.7 709.4 287.1C710.0 285.6 710.6 284.0 711.2 282.5C711.9 280.9 712.5 279.4 713.1 277.8C713.7 276.3 714.4 274.7 715.0 273.2C715.6 271.6 716.3 270.1 716.9 268.6C717.6 267.0 718.2 265.5 718.9 264.0C719.6 262.4 720.2 260.9 720.9 259.4C721.6 257.9 722.2 256.3 722.9 254.8C723.6 253.3 724.3 251.8 725.0 250.2C725.6 248.7 726.3 247.2 727.0 245.7C727.7 244.2 728.4 242.6 729.1 241.1C729.8 239.6 730.5 238.1 731.2 236.6C731.9 235.1 732.6 233.5 733.3 232.0C734.0 230.5 734.7 229.0 735.4 227.5C736.1 226.0 736.8 224.5 737.5 223.0C738.2 221.5 738.9 219.9 739.7 218.4C740.4 216.9 741.1 215.4 741.8 213.9C742.5 212.4 743.2 210.9 744.0 209.4C744.7 207.9 745.5 206.4 746.2 204.9C747.0 203.4 747.7 202.0 748.5 200.5C749.3 199.0 750.1 197.5 750.9 196.1C751.7 194.6 752.5 193.2 753.3 191.7C754.2 190.3 755.1 188.9 755.9 187.5C756.8 186.0 757.7 184.6 758.6 183.2C759.6 181.9 760.5 180.5 761.5 179.1C762.5 177.8 763.5 176.4 764.5 175.1C765.5 173.8 766.6 172.5 767.7 171.2C768.7 170.0 769.8 168.7 771.0 167.5C772.1 166.3 773.3 165.1 774.5 163.9C775.7 162.8 776.9 161.6 778.1 160.5C779.4 159.4 780.7 158.3 782.0 157.3C783.3 156.3 784.6 155.2 786.0 154.3C787.3 153.3 788.7 152.4 790.1 151.5C791.5 150.6 792.9 149.7 794.4 148.9C795.8 148.1 797.3 147.3 798.8 146.6C800.3 145.9 801.8 145.2 803.4 144.5C804.9 143.9 806.5 143.3 808.1 142.8C809.7 142.3 811.3 141.9 812.9 141.5C814.5 141.2 816.2 140.9 817.9 140.7C819.5 140.5 821.2 140.2 822.8 140.5C824.4 140.7 825.9 141.7 827.5 142.2C829.0 142.8 830.6 143.3 832.2 143.7C833.8 144.2 835.5 144.4 837.1 144.8C838.8 145.1 840.4 145.5 842.0 145.8C843.7 146.1 845.3 146.4 847.0 146.7C848.6 146.9 850.3 147.2 851.9 147.4C853.6 147.5 855.2 147.6 856.9 147.8C858.6 147.9 860.2 147.9 861.9 148.0C863.6 148.1 865.2 148.2 866.9 148.4C868.5 148.5 870.2 148.7 871.9 149.0C873.5 149.3 875.1 149.6 876.7 150.0C878.4 150.4 880.0 150.9 881.5 151.5C883.1 152.0 884.7 152.7 886.2 153.3C887.7 154.0 889.2 154.7 890.7 155.4C892.2 156.2 893.7 157.0 895.1 157.8C896.6 158.6 898.0 159.5 899.4 160.4C900.8 161.3 902.2 162.2 903.6 163.2C905.0 164.1 906.3 165.1 907.6 166.1C909.0 167.1 910.3 168.1 911.6 169.1C912.9 170.2 914.2 171.3 915.4 172.4C916.7 173.5 917.9 174.6 919.1 175.7C920.4 176.9 921.5 178.0 922.7 179.2C923.9 180.4 925.1 181.6 926.2 182.8C927.3 184.0 928.4 185.3 929.5 186.5C930.6 187.8 931.7 189.1 932.7 190.4C933.8 191.7 934.8 193.0 935.8 194.3C936.8 195.6 937.8 197.0 938.8 198.3C939.8 199.7 940.7 201.1 941.6 202.5C942.6 203.8 943.5 205.2 944.4 206.7C945.3 208.1 946.1 209.5 947.0 210.9C947.8 212.3 948.7 213.8 949.5 215.2C950.3 216.7 951.1 218.2 951.9 219.6C952.7 221.1 953.4 222.6 954.2 224.1C954.9 225.6 955.7 227.1 956.4 228.6C957.1 230.1 957.8 231.6 958.5 233.1C959.2 234.6 959.8 236.2 960.5 237.7C961.1 239.3 961.8 240.8 962.4 242.3C963.0 243.9 963.6 245.4 964.2 247.0C964.8 248.6 965.4 250.1 965.9 251.7C966.5 253.3 967.0 254.8 967.6 256.4C968.1 258.0 968.6 259.6 969.1 261.2C969.6 262.8 970.1 264.4 970.6 266.0C971.1 267.6 971.6 269.2 972.0 270.8C972.5 272.4 972.9 274.0 973.4 275.6C973.8 277.2 974.2 278.8 974.7 280.4C975.1 282.0 975.5 283.6 975.9 285.3C976.3 286.9 976.6 288.5 977.0 290.1C977.4 291.8 977.7 293.4 978.1 295.0C978.5 296.7 978.8 298.3 979.1 299.9C979.5 301.6 979.8 303.2 980.1 304.8C980.5 306.5 980.8 308.1 981.1 309.7C981.4 311.4 981.7 313.0 982.0 314.7C982.3 316.3 982.6 317.9 982.8 319.6C983.1 321.2 983.4 322.9 983.7 324.5C983.9 326.2 984.2 327.8 984.5 329.5C984.7 331.1 985.0 332.8 985.2 334.4C985.5 336.1 985.7 337.7 986.0 339.4C986.2 341.0 986.5 342.7 986.7 344.3C986.9 346.0 987.2 347.6 987.4 349.3C987.6 350.9 987.9 352.6 988.1 354.2C988.3 355.9 988.5 357.5 988.8 359.2C989.0 360.8 989.2 362.5 989.4 364.1C989.6 365.8 989.8 367.4 990.0 369.1C990.2 370.8 990.4 372.4 990.6 374.1C990.8 375.7 991.0 377.4 991.2 379.0C991.4 380.7 991.6 382.4 991.8 384.0C992.0 385.7 992.2 387.3 992.3 389.0C992.5 390.6 992.7 392.3 992.9 394.0C993.1 395.6 993.2 397.3 993.4 398.9C993.6 400.6 993.7 402.3 993.9 403.9C994.1 405.6 994.2 407.2 994.4 408.9C994.6 410.6 994.7 412.2 994.9 413.9C995.0 415.5 995.2 417.2 995.3 418.9C995.5 420.5 995.6 422.2 995.8 423.8C995.9 425.5 996.1 427.2 996.2 428.8C996.4 430.5 996.5 432.1 996.7 433.8C996.8 435.5 996.9 437.1 997.1 438.8C997.2 440.5 997.3 442.1 997.5 443.8C997.6 445.4 997.7 447.1 997.9 448.8C998.0 450.4 998.1 452.1 998.3 453.8C998.4 455.4 998.5 457.1 998.6 458.8C998.8 460.4 998.9 462.1 999.0 463.7C999.1 465.4 999.2 467.1 999.4 468.7C999.5 470.4 999.6 472.1 999.7 473.7C999.8 475.4 999.9 477.1 1000.1 478.7C1000.2 480.4 1000.3 482.0 1000.4 483.7C1000.5 485.4 1000.6 487.0 1000.7 488.7C1000.8 490.4 1001.0 492.0 1001.1 493.7C1001.2 495.4 1001.3 497.0 1001.4 498.7C1001.5 500.3 1001.6 502.0 1001.7 503.7C1001.8 505.3 1001.9 507.0 1002.0 508.7C1002.1 510.3 1002.2 512.0 1002.3 513.7C1002.4 515.3 1002.5 517.0 1002.7 518.7C1002.8 520.3 1002.9 522.0 1003.0 523.7C1003.1 525.3 1003.2 527.0 1003.3 528.6C1003.4 530.3 1003.5 532.0 1003.6 533.6C1003.7 535.3 1003.8 537.0 1003.9 538.6C1004.0 540.3 1004.1 542.0 1004.2 543.6C1004.3 545.3 1004.4 547.0 1004.5 548.6C1004.6 550.3 1004.7 552.0 1004.8 553.6C1004.9 555.3 1005.0 556.9 1005.1 558.6C1005.2 560.3 1005.3 561.9 1005.4 563.6C1005.5 565.3 1005.6 566.9 1005.8 568.6C1005.9 570.3 1006.0 571.9 1006.1 573.6C1006.2 575.3 1006.3 576.9 1006.4 578.6C1006.5 580.3 1006.6 581.9 1006.7 583.6C1006.8 585.2 1006.9 586.9 1007.0 588.6C1007.1 590.2 1007.2 591.9 1007.3 593.6C1007.4 595.2 1007.5 596.9 1007.6 598.6C1007.7 600.2 1007.8 601.9 1008.0 603.6C1008.1 605.2 1008.2 606.9 1008.3 608.6C1008.4 610.2 1008.5 611.9 1008.6 613.5C1008.7 615.2 1008.8 616.9 1008.9 618.5C1009.0 620.2 1009.1 621.9 1009.2 623.5C1009.3 625.2 1009.5 626.9 1009.6 628.5C1009.7 630.2 1009.8 631.9 1009.9 633.5C1010.0 635.2 1010.1 636.8 1010.2 638.5C1010.3 640.2 1010.4 641.8 1010.6 643.5C1010.7 645.2 1010.8 646.8 1010.9 648.5C1011.0 650.2 1011.1 651.8 1011.2 653.5C1011.3 655.2 1011.4 656.8 1011.6 658.5C1011.7 660.1 1011.8 661.8 1011.9 663.5C1012.0 665.1 1012.1 666.8 1012.3 668.5C1012.4 670.1 1012.5 671.8 1012.6 673.5C1012.7 675.1 1012.8 676.8 1013.0 678.4C1013.1 680.1 1013.2 681.8 1013.3 683.4C1013.4 685.1 1013.5 686.8 1013.7 688.4C1013.8 690.1 1013.9 691.8 1014.0 693.4C1014.1 695.1 1014.3 696.7 1014.4 698.4C1014.5 700.1 1014.6 701.7 1014.8 703.4C1014.9 705.1 1015.0 706.7 1015.1 708.4C1015.3 710.1 1015.4 711.7 1015.5 713.4C1015.6 715.0 1015.8 716.7 1015.9 718.4C1016.0 720.0 1016.2 721.7 1016.3 723.4C1016.4 725.0 1016.5 726.7 1016.7 728.3C1016.8 730.0 1016.9 731.7 1017.1 733.3C1017.2 735.0 1017.3 736.7 1017.5 738.3C1017.6 740.0 1017.7 741.6 1017.9 743.3C1018.0 745.0 1018.1 746.6 1018.3 748.3C1018.4 750.0 1018.6 751.6 1018.7 753.3C1018.8 754.9 1019.0 756.6 1019.1 758.3C1019.2 759.9 1019.4 761.6 1019.5 763.3C1019.7 764.9 1019.8 766.6 1020.0 768.2C1020.1 769.9 1020.2 771.6 1020.4 773.2C1020.5 774.9 1020.7 776.6 1020.8 778.2C1021.0 779.9 1021.1 781.5 1021.3 783.2C1021.4 784.9 1021.6 786.5 1021.7 788.2C1021.9 789.8 1022.0 791.5 1022.2 793.2C1022.3 794.8 1022.5 796.5 1022.7 798.1C1022.8 799.8 1023.0 801.5 1023.1 803.1C1023.3 804.8 1023.4 806.4 1023.6 808.1C1023.8 809.8 1023.9 811.4 1024.1 813.1C1024.2 814.7 1024.4 816.4 1024.6 818.1C1024.7 819.7 1024.9 821.4 1025.1 823.0C1025.2 824.7 1025.4 826.4 1025.6 828.0C1025.7 829.7 1025.9 831.3 1026.1 833.0C1026.2 834.7 1026.4 836.3 1026.6 838.0C1026.8 839.6 1026.9 841.3 1027.1 843.0C1027.3 844.6 1027.5 846.3 1027.6 847.9C1027.8 849.6 1028.0 851.2 1028.2 852.9C1028.4 854.6 1028.5 856.2 1028.7 857.9C1028.9 859.5 1029.1 861.2 1029.3 862.9C1029.5 864.5 1029.6 866.2 1029.8 867.8C1030.0 869.5 1030.2 871.1 1030.4 872.8C1030.6 874.5 1030.8 876.1 1031.0 877.8C1031.2 879.4 1031.4 881.1 1031.6 882.7C1031.8 884.4 1032.0 886.1 1032.2 887.7C1032.4 889.4 1032.6 891.0 1032.8 892.7C1033.0 894.3 1033.2 896.0 1033.4 897.6C1033.6 899.3 1033.8 901.0 1034.0 902.6C1034.2 904.3 1034.4 905.9 1034.6 907.6C1034.8 909.2 1035.0 910.9 1035.2 912.5C1035.5 914.2 1035.7 915.8 1035.9 917.5C1036.1 919.2 1036.3 920.8 1036.5 922.5C1036.8 924.1 1037.0 925.8 1037.2 927.4C1037.4 929.1 1037.6 930.7 1037.9 932.4C1038.1 934.0 1038.3 935.7 1038.6 937.3C1038.8 939.0 1039.0 940.6 1039.2 942.3C1039.5 943.9 1039.7 945.6 1039.9 947.2C1040.2 948.9 1040.4 950.5 1040.6 952.2C1040.9 953.8 1041.1 955.5 1041.4 957.2C1041.6 958.8 1041.8 960.5 1042.1 962.1C1042.3 963.8 1042.6 965.4 1042.9 967.0C1043.1 968.7 1043.4 970.3 1043.7 972.0C1044.0 973.6 1044.3 975.3 1044.6 976.9C1045.0 978.5 1045.3 980.2 1045.7 981.8C1046.1 983.4 1046.5 985.0 1046.9 986.6C1047.4 988.2 1047.9 989.8 1048.4 991.4C1048.9 993.0 1049.5 994.6 1050.1 996.1C1050.7 997.7 1051.3 999.2 1052.0 1000.8C1052.7 1002.3 1053.4 1003.8 1054.2 1005.2C1055.0 1006.7 1055.8 1008.2 1056.7 1009.6C1057.6 1011.0 1058.5 1012.4 1059.5 1013.7C1060.5 1015.0 1061.6 1016.3 1062.7 1017.6C1063.8 1018.8 1065.0 1019.9 1066.3 1021.0C1067.6 1022.1 1068.9 1023.1 1070.3 1024.0C1071.7 1024.9 1073.2 1025.7 1074.8 1026.3C1076.3 1027.0 1077.9 1027.5 1079.5 1027.9C1081.1 1028.4 1082.7 1028.7 1084.4 1029.0C1086.0 1029.2 1087.7 1029.4 1089.3 1029.6C1091.0 1029.7 1092.7 1029.8 1094.3 1029.9C1096.0 1030.0 1097.7 1030.0 1099.3 1030.1C1101.0 1030.1 1102.7 1030.1 1104.3 1030.1C1106.0 1030.1 1107.7 1030.1 1109.3 1030.1C1111.0 1030.0 1112.7 1030.0 1114.3 1029.9C1116.0 1029.9 1117.7 1029.8 1119.3 1029.7C1121.0 1029.7 1122.7 1029.6 1124.3 1029.5C1126.0 1029.4 1127.7 1029.3 1129.3 1029.2C1131.0 1029.1 1132.7 1029.0 1134.3 1028.9C1136.0 1028.8 1137.7 1028.7 1139.3 1028.6C1141.0 1028.4 1142.7 1028.3 1144.3 1028.2C1146.0 1028.1 1147.7 1028.0 1149.3 1027.9C1151.0 1027.8 1152.6 1027.8 1154.3 1027.7C1156.0 1027.6 1157.6 1027.5 1159.3 1027.5C1161.0 1027.4 1162.6 1027.4 1164.3 1027.4C1166.0 1027.3 1167.7 1027.3 1169.3 1027.3C1171.0 1027.3 1172.7 1027.3 1174.3 1027.3C1176.0 1027.4 1177.7 1027.4 1179.3 1027.4C1181.0 1027.5 1182.7 1027.5 1184.3 1027.6C1186.0 1027.7 1187.7 1027.7 1189.3 1027.8C1191.0 1027.9 1192.7 1028.0 1194.3 1028.1C1196.0 1028.2 1197.7 1028.3 1199.3 1028.4C1201.0 1028.5 1202.6 1028.6 1204.3 1028.8C1206.0 1028.9 1207.6 1029.0 1209.3 1029.1C1211.0 1029.3 1212.6 1029.4 1214.3 1029.5C1215.9 1029.7 1217.6 1029.8 1219.3 1030.0C1220.9 1030.1 1222.6 1030.2 1224.3 1030.4C1225.9 1030.5 1227.6 1030.7 1229.2 1030.8C1230.9 1031.0 1232.6 1031.1 1234.2 1031.2C1235.9 1031.4 1237.6 1031.5 1239.2 1031.7C1240.9 1031.8 1242.5 1031.9 1244.2 1032.1C1245.9 1032.2 1247.5 1032.3 1249.2 1032.5C1250.9 1032.6 1252.5 1032.7 1254.2 1032.8C1255.8 1032.9 1257.5 1033.0 1259.2 1033.2C1260.8 1033.3 1262.5 1033.4 1264.2 1033.5C1265.8 1033.6 1267.5 1033.7 1269.2 1033.8C1270.8 1033.9 1272.5 1034.0 1274.2 1034.1C1275.8 1034.2 1277.5 1034.2 1279.2 1034.3C1280.8 1034.4 1282.5 1034.5 1284.2 1034.6C1285.8 1034.7 1287.5 1034.7 1289.1 1034.8C1290.8 1034.9 1292.5 1035.0 1294.1 1035.0C1295.8 1035.1 1297.5 1035.2 1299.1 1035.2C1300.8 1035.3 1302.5 1035.4 1304.1 1035.4C1305.8 1035.5 1307.5 1035.6 1309.1 1035.6C1310.8 1035.7 1312.5 1035.7 1314.1 1035.8C1315.8 1035.8 1317.5 1035.9 1319.1 1036.0C1320.8 1036.0 1322.5 1036.1 1324.2 1036.1C1325.8 1036.2 1327.5 1036.2 1329.2 1036.3C1330.8 1036.3 1332.5 1036.4 1334.2 1036.4C1335.8 1036.4 1337.5 1036.5 1339.2 1036.5C1340.8 1036.6 1342.5 1036.6 1344.2 1036.7C1345.8 1036.7 1347.5 1036.8 1349.2 1036.8C1350.8 1036.8 1352.5 1036.9 1354.2 1036.9C1355.8 1037.0 1357.5 1037.0 1359.2 1037.0C1360.8 1037.1 1362.5 1037.1 1364.2 1037.2C1365.8 1037.2 1367.5 1037.2 1369.2 1037.3C1370.8 1037.3 1372.5 1037.3 1374.2 1037.4C1375.8 1037.4 1377.5 1037.5 1379.2 1037.5C1380.8 1037.5 1382.5 1037.6 1384.2 1037.6C1385.8 1037.6 1387.5 1037.7 1389.2 1037.7C1390.8 1037.7 1392.5 1037.8 1394.2 1037.8C1395.9 1037.8 1397.5 1037.9 1399.2 1037.9C1400.9 1037.9 1402.5 1038.0 1404.2 1038.0C1405.9 1038.0 1407.5 1038.1 1409.2 1038.1C1410.9 1038.1 1412.5 1038.2 1414.2 1038.2C1415.9 1038.2 1417.5 1038.3 1419.2 1038.3C1420.9 1038.3 1422.5 1038.4 1424.2 1038.4C1425.9 1038.4 1427.5 1038.4 1429.2 1038.5C1430.9 1038.5 1432.5 1038.5 1434.2 1038.6C1435.9 1038.6 1437.5 1038.6 1439.2 1038.6C1440.9 1038.7 1442.5 1038.7 1444.2 1038.7C1445.9 1038.7 1447.5 1038.8 1449.2 1038.8C1450.9 1038.8 1452.6 1038.8 1454.2 1038.9C1455.9 1038.9 1457.6 1038.9 1459.2 1038.9C1460.9 1039.0 1462.6 1039.0 1464.2 1039.0C1465.9 1039.0 1467.6 1039.1 1469.2 1039.1C1470.9 1039.1 1472.6 1039.1 1474.2 1039.2C1475.9 1039.2 1477.6 1039.2 1479.2 1039.2C1480.9 1039.2 1482.6 1039.3 1484.2 1039.3C1485.9 1039.3 1487.6 1039.3 1489.2 1039.4C1490.9 1039.4 1492.6 1039.4 1494.2 1039.4C1495.9 1039.4 1497.6 1039.5 1499.2 1039.5C1500.9 1039.5 1502.6 1039.5 1504.3 1039.5C1505.9 1039.6 1507.6 1039.6 1509.3 1039.6C1510.9 1039.6 1512.6 1039.6 1514.3 1039.6C1515.9 1039.7 1517.6 1039.7 1519.3 1039.7C1520.9 1039.7 1522.6 1039.7 1524.3 1039.7C1525.9 1039.8 1527.6 1039.8 1529.3 1039.8C1530.9 1039.8 1532.6 1039.8 1534.3 1039.8C1535.9 1039.9 1537.6 1039.9 1539.3 1039.9C1540.9 1039.9 1542.6 1039.9 1544.3 1039.9C1545.9 1040.0 1547.6 1040.0 1549.3 1040.0C1551.0 1040.0 1552.6 1040.0 1554.3 1040.0C1556.0 1040.0 1557.6 1040.1 1559.3 1040.1C1561.0 1040.1 1562.6 1040.1 1564.3 1040.1C1566.0 1040.1 1567.6 1040.1 1569.3 1040.1C1571.0 1040.2 1572.6 1040.2 1574.3 1040.2C1576.0 1040.2 1577.6 1040.2 1579.3 1040.2C1581.0 1040.2 1582.6 1040.2 1584.3 1040.3C1586.0 1040.3 1587.6 1040.3 1589.3 1040.3C1591.0 1040.3 1592.6 1040.3 1594.3 1040.3C1596.0 1040.3 1597.7 1040.3 1599.3 1040.4C1601.0 1040.4 1602.7 1040.4 1604.3 1040.4C1606.0 1040.4 1607.7 1040.4 1609.3 1040.4C1611.0 1040.4 1612.7 1040.4 1614.3 1040.5C1616.0 1040.5 1617.7 1040.5 1619.3 1040.5C1621.0 1040.5 1622.7 1040.5 1624.3 1040.5C1626.0 1040.5 1627.7 1040.5 1629.3 1040.5C1631.0 1040.5 1632.7 1040.6 1634.3 1040.6C1636.0 1040.6 1637.7 1040.6 1639.4 1040.6C1641.0 1040.6 1642.7 1040.6 1644.4 1040.6C1646.0 1040.6 1647.7 1040.6 1649.4 1040.6C1651.0 1040.6 1652.7 1040.7 1654.4 1040.7C1656.0 1040.7 1657.7 1040.7 1659.4 1040.7C1661.0 1040.7 1662.7 1040.7 1664.4 1040.7C1666.0 1040.7 1667.7 1040.7 1669.4 1040.7C1671.0 1040.7 1672.7 1040.7 1674.4 1040.8C1676.0 1040.8 1677.7 1040.8 1679.4 1040.8C1681.0 1040.8 1682.7 1040.8 1684.4 1040.8C1686.1 1040.8 1687.7 1040.8 1689.4 1040.8C1691.1 1040.8 1692.7 1040.8 1694.4 1040.8C1696.1 1040.8 1697.7 1040.8 1699.4 1040.9C1701.1 1040.9 1702.7 1040.9 1704.4 1040.9C1706.1 1040.9 1707.7 1040.9 1709.4 1040.9C1711.1 1040.9 1712.7 1040.9 1714.4 1040.9C1716.1 1040.9 1717.7 1040.9 1719.4 1040.9C1721.1 1040.9 1722.7 1040.9 1724.4 1040.9C1726.1 1041.0 1727.7 1041.0 1729.4 1041.0C1731.1 1041.0 1732.8 1041.0 1734.4 1041.0C1736.1 1041.0 1737.8 1041.0 1739.4 1041.0C1741.1 1041.0 1742.8 1041.0 1744.4 1041.0C1746.1 1041.0 1747.8 1041.0 1749.4 1041.0C1751.1 1041.0 1752.8 1041.0 1754.4 1041.1C1756.1 1041.1 1757.8 1041.1 1759.4 1041.1C1761.1 1041.1 1762.8 1041.1 1764.4 1041.1C1766.1 1041.1 1767.8 1041.1 1769.4 1041.1C1771.1 1041.1 1772.8 1041.1 1774.5 1041.1C1776.1 1041.1 1777.8 1041.1 1779.5 1041.1C1781.1 1041.2 1782.8 1041.2 1784.5 1041.2C1786.1 1041.2 1787.8 1041.2 1789.5 1041.2C1791.1 1041.2 1792.8 1041.2 1794.5 1041.2C1796.1 1041.2 1797.8 1041.2 1799.5 1041.2C1801.1 1041.2 1802.8 1041.2 1804.5 1041.2C1806.1 1041.2 1807.8 1041.3 1809.5 1041.3C1811.1 1041.3 1812.8 1041.3 1814.5 1041.3C1816.1 1041.3 1817.8 1041.3 1819.5 1041.3C1821.2 1041.3 1822.8 1041.3 1824.5 1041.3C1826.2 1041.3 1827.8 1041.3 1829.5 1041.4C1831.2 1041.4 1832.8 1041.4 1834.5 1041.4C1836.2 1041.4 1838.7 1041.4 1839.5 1041.4"/>
<path stroke="#00f" d="M336.4 1013.9C337.2 1013.8 339.7 1013.4 341.3 1013.1C342.9 1012.7 344.6 1012.2 346.1 1011.7C347.7 1011.1 349.2 1010.4 350.7 1009.7C352.2 1008.9 353.6 1008.0 355.0 1007.1C356.4 1006.2 357.7 1005.2 359.0 1004.1C360.3 1003.1 361.5 1001.9 362.7 1000.8C363.9 999.6 365.0 998.4 366.1 997.1C367.2 995.9 368.3 994.6 369.3 993.3C370.4 992.0 371.4 990.6 372.3 989.3C373.3 987.9 374.3 986.6 375.2 985.2C376.2 983.8 377.1 982.4 378.0 981.0C378.9 979.7 379.8 978.3 380.7 976.9C381.6 975.5 382.5 974.1 383.4 972.6C384.3 971.2 385.2 969.8 386.1 968.4C387.0 967.0 387.8 965.6 388.7 964.1C389.6 962.7 390.4 961.3 391.3 959.9C392.1 958.4 392.9 957.0 393.8 955.5C394.6 954.1 395.4 952.6 396.2 951.2C397.0 949.7 397.8 948.2 398.6 946.8C399.4 945.3 400.1 943.8 400.9 942.3C401.6 940.8 402.4 939.3 403.1 937.8C403.8 936.3 404.6 934.8 405.3 933.3C405.9 931.8 406.6 930.3 407.3 928.8C408.0 927.2 408.6 925.7 409.3 924.2C409.9 922.6 410.5 921.1 411.1 919.5C411.7 918.0 412.3 916.4 412.9 914.8C413.5 913.3 414.0 911.7 414.6 910.1C415.2 908.6 415.7 907.0 416.2 905.4C416.8 903.8 417.3 902.3 417.8 900.7C418.3 899.1 418.8 897.5 419.2 895.9C419.7 894.3 420.2 892.7 420.7 891.1C421.1 889.5 421.6 887.9 422.0 886.3C422.4 884.7 422.9 883.1 423.3 881.4C423.7 879.8 424.1 878.2 424.5 876.6C424.9 875.0 425.3 873.4 425.7 871.7C426.1 870.1 426.5 868.5 426.8 866.9C427.2 865.2 427.6 863.6 427.9 862.0C428.3 860.4 428.6 858.7 429.0 857.1C429.3 855.5 429.7 853.8 430.0 852.2C430.4 850.6 430.7 848.9 431.0 847.3C431.3 845.7 431.7 844.0 432.0 842.4C432.3 840.8 432.6 839.1 432.9 837.5C433.2 835.9 433.5 834.2 433.9 832.6C434.2 830.9 434.5 829.3 434.8 827.7C435.1 826.0 435.4 824.4 435.7 822.7C436.0 821.1 436.3 819.5 436.6 817.8C436.9 816.2 437.2 814.5 437.5 812.9C437.8 811.3 438.1 809.6 438.4 808.0C438.7 806.3 439.0 804.7 439.3 803.1C439.6 801.4 439.9 799.8 440.2 798.1C440.5 796.5 440.8 794.9 441.1 793.2C441.3 791.6 441.6 789.9 441.9 788.3C442.2 786.7 442.5 785.0 442.8 783.4C443.1 781.7 443.4 780.1 443.7 778.5C444.0 776.8 444.3 775.2 444.6 773.5C444.9 771.9 445.2 770.3 445.5 768.6C445.9 767.0 446.2 765.4 446.5 763.7C446.8 762.1 447.1 760.4 447.4 758.8C447.7 757.2 448.0 755.5 448.3 753.9C448.6 752.3 448.9 750.6 449.3 749.0C449.6 747.3 449.9 745.7 450.2 744.1C450.5 742.4 450.8 740.8 451.2 739.2C451.5 737.5 451.8 735.9 452.1 734.3C452.5 732.6 452.8 731.0 453.1 729.4C453.4 727.7 453.8 726.1 454.1 724.5C454.5 722.8 454.8 721.2 455.1 719.6C455.5 717.9 455.8 716.3 456.2 714.7C456.5 713.0 456.9 711.4 457.2 709.8C457.6 708.1 457.9 706.5 458.3 704.9C458.6 703.3 459.0 701.6 459.4 700.0C459.7 698.4 460.1 696.8 460.5 695.1C460.8 693.5 461.2 691.9 461.6 690.3C462.0 688.6 462.4 687.0 462.8 685.4C463.1 683.8 463.5 682.2 463.9 680.5C464.3 678.9 464.7 677.3 465.1 675.7C465.5 674.1 465.9 672.4 466.3 670.8C466.8 669.2 467.2 667.6 467.6 666.0C468.0 664.4 468.4 662.8 468.9 661.2C469.3 659.5 469.7 657.9 470.2 656.3C470.6 654.7 471.1 653.1 471.5 651.5C472.0 649.9 472.4 648.3 472.9 646.7C473.3 645.1 473.8 643.5 474.3 641.9C474.7 640.3 475.2 638.7 475.7 637.1C476.2 635.5 476.7 633.9 477.2 632.3C477.6 630.7 478.1 629.1 478.6 627.5C479.1 626.0 479.7 624.4 480.2 622.8C480.7 621.2 481.2 619.6 481.7 618.0C482.3 616.5 482.8 614.9 483.3 613.3C483.9 611.7 484.4 610.1 485.0 608.6C485.5 607.0 486.1 605.4 486.6 603.9C487.2 602.3 487.8 600.7 488.3 599.2C488.9 597.6 489.5 596.0 490.0 594.5C490.6 592.9 491.2 591.3 491.8 589.8C492.3 588.2 492.9 586.6 493.5 585.1C494.1 583.5 494.7 582.0 495.3 580.4C495.8 578.8 496.4 577.3 497.0 575.7C497.6 574.1 498.2 572.6 498.8 571.0C499.3 569.5 499.9 567.9 500.5 566.3C501.1 564.8 501.6 563.2 502.2 561.6C502.8 560.1 503.4 558.5 503.9 556.9C504.5 555.4 505.0 553.8 505.6 552.2C506.2 550.7 506.7 549.1 507.3 547.5C507.8 545.9 508.3 544.4 508.9 542.8C509.4 541.2 509.9 539.6 510.5 538.0C511.0 536.5 511.5 534.9 512.0 533.3C512.5 531.7 513.0 530.1 513.5 528.5C514.0 526.9 514.4 525.3 514.9 523.7C515.4 522.1 515.9 520.5 516.4 518.9C516.9 517.3 517.3 515.7 517.9 514.2C518.4 512.6 518.9 511.0 519.4 509.4C519.9 507.8 520.5 506.2 521.0 504.7C521.6 503.1 522.2 501.6 522.8 500.0C523.4 498.4 524.0 496.9 524.7 495.4C525.3 493.8 526.0 492.3 526.7 490.8C527.4 489.3 528.2 487.8 528.9 486.3C529.7 484.8 530.5 483.3 531.3 481.9C532.2 480.5 533.1 479.1 534.1 477.8C535.2 476.5 536.3 475.2 537.6 474.2C538.8 473.2 540.4 472.2 541.9 471.8C543.5 471.4 545.3 471.3 546.9 471.6C548.4 472.0 550.0 472.9 551.2 474.0C552.5 475.0 553.4 476.5 554.3 477.9C555.1 479.3 555.7 480.9 556.3 482.4C556.9 484.0 557.4 485.6 557.8 487.2C558.2 488.8 558.6 490.5 559.0 492.1C559.3 493.7 559.6 495.4 559.9 497.0C560.2 498.6 560.5 500.3 560.8 501.9C561.1 503.6 561.3 505.2 561.6 506.9C561.9 508.5 562.1 510.1 562.4 511.8C562.6 513.4 562.8 515.1 563.1 516.7C563.3 518.4 563.5 520.1 563.7 521.7C563.9 523.4 564.1 525.0 564.3 526.7C564.5 528.3 564.7 530.0 564.9 531.6C565.1 533.3 565.3 534.9 565.5 536.6C565.7 538.3 565.9 539.9 566.1 541.6C566.3 543.2 566.4 544.9 566.6 546.5C566.8 548.2 567.0 549.8 567.2 551.5C567.4 553.2 567.6 554.8 567.8 556.5C567.9 558.1 568.1 559.8 568.3 561.4C568.5 563.1 568.7 564.8 568.9 566.4C569.0 568.1 569.2 569.7 569.4 571.4C569.6 573.0 569.8 574.7 569.9 576.4C570.1 578.0 570.3 579.7 570.4 581.3C570.6 583.0 570.8 584.6 570.9 586.3C571.1 588.0 571.3 589.6 571.4 591.3C571.6 592.9 571.7 594.6 571.9 596.3C572.0 597.9 572.2 599.6 572.3 601.2C572.5 602.9 572.6 604.6 572.8 606.2C572.9 607.9 573.0 609.5 573.1 611.2C573.3 612.9 573.4 614.5 573.5 616.2C573.6 617.9 573.7 619.5 573.8 621.2C573.9 622.8 574.1 624.5 574.2 626.2C574.3 627.8 574.4 629.5 574.4 631.2C574.5 632.8 574.6 634.5 574.7 636.2C574.8 637.8 574.9 639.5 575.0 641.2C575.1 642.8 575.2 644.5 575.3 646.1C575.4 647.8 575.5 649.5 575.6 651.1C575.7 652.8 575.8 654.5 575.9 656.1C576.0 657.8 576.1 659.5 576.2 661.1C576.3 662.8 576.4 664.4 576.6 666.1C576.7 667.8 576.8 669.4 576.9 671.1C577.1 672.8 577.2 674.4 577.4 676.1C577.5 677.7 577.7 679.4 577.8 681.1C578.0 682.7 578.1 684.4 578.3 686.0C578.5 687.7 578.7 689.3 578.9 691.0C579.1 692.6 579.3 694.3 579.5 696.0C579.7 697.6 580.0 699.3 580.2 700.9C580.5 702.6 580.7 704.2 581.0 705.8C581.3 707.5 581.6 709.1 581.9 710.8C582.2 712.4 582.5 714.0 582.9 715.7C583.3 717.3 583.7 718.9 584.1 720.5C584.6 722.1 585.0 723.7 585.5 725.3C586.1 726.9 586.6 728.5 587.2 730.0C587.8 731.6 588.4 733.2 589.4 734.5C590.3 735.9 591.4 737.5 592.8 738.1C594.1 738.8 596.1 738.9 597.6 738.5C599.1 738.1 600.7 737.0 601.8 735.9C603.0 734.8 603.7 733.2 604.4 731.7C605.1 730.2 605.4 728.5 605.9 726.9C606.3 725.3 606.6 723.6 606.9 722.0C607.3 720.4 607.6 718.7 608.0 717.1C608.3 715.5 608.7 713.8 609.0 712.2C609.4 710.6 609.7 709.0 610.1 707.3C610.5 705.7 610.8 704.1 611.2 702.5C611.6 700.8 611.9 699.2 612.3 697.6C612.7 696.0 613.1 694.3 613.5 692.7C613.8 691.1 614.2 689.5 614.6 687.8C615.0 686.2 615.4 684.6 615.8 683.0C616.2 681.4 616.6 679.7 617.0 678.1C617.4 676.5 617.8 674.9 618.2 673.3C618.6 671.7 619.0 670.0 619.4 668.4C619.9 666.8 620.3 665.2 620.7 663.6C621.1 662.0 621.5 660.4 621.9 658.7C622.4 657.1 622.8 655.5 623.2 653.9C623.6 652.3 624.1 650.7 624.5 649.1C624.9 647.5 625.4 645.9 625.8 644.3C626.2 642.6 626.7 641.0 627.1 639.4C627.6 637.8 628.0 636.2 628.4 634.6C628.9 633.0 629.3 631.4 629.8 629.8C630.2 628.2 630.7 626.6 631.1 625.0C631.6 623.4 632.0 621.8 632.5 620.2C632.9 618.6 633.4 617.0 633.8 615.4C634.3 613.7 634.8 612.1 635.2 610.5C635.7 608.9 636.1 607.3 636.6 605.7C637.1 604.1 637.5 602.5 638.0 600.9C638.5 599.3 638.9 597.7 639.4 596.1C639.9 594.5 640.3 592.9 640.8 591.3C641.3 589.7 641.7 588.1 642.2 586.5C642.7 584.9 643.2 583.3 643.6 581.7C644.1 580.1 644.6 578.5 645.1 577.0C645.5 575.4 646.0 573.8 646.5 572.2C647.0 570.6 647.4 569.0 647.9 567.4C648.4 565.8 648.9 564.2 649.3 562.6C649.8 561.0 650.3 559.4 650.8 557.8C651.2 556.2 651.7 554.6 652.2 553.0C652.7 551.4 653.2 549.8 653.6 548.2C654.1 546.6 654.6 545.0 655.1 543.4C655.5 541.8 656.0 540.2 656.5 538.6C657.0 537.0 657.5 535.4 657.9 533.8C658.4 532.2 658.9 530.6 659.4 529.0C659.8 527.4 660.3 525.8 660.8 524.2C661.3 522.6 661.7 521.0 662.2 519.5C662.7 517.9 663.2 516.3 663.6 514.7C664.1 513.1 664.6 511.5 665.0 509.9C665.5 508.3 666.0 506.7 666.5 505.1C666.9 503.5 667.4 501.9 667.9 500.3C668.4 498.7 668.8 497.1 669.3 495.5C669.8 493.9 670.3 492.3 670.7 490.7C671.2 489.1 671.7 487.5 672.2 485.9C672.6 484.3 673.1 482.7 673.6 481.1C674.1 479.5 674.6 477.9 675.0 476.3C675.5 474.7 676.0 473.1 676.5 471.5C677.0 469.9 677.4 468.3 677.9 466.7C678.4 465.1 678.9 463.5 679.4 462.0C679.9 460.4 680.3 458.8 680.8 457.2C681.3 455.6 681.8 454.0 682.3 452.4C682.8 450.8 683.3 449.2 683.8 447.6C684.3 446.0 684.8 444.4 685.2 442.8C685.7 441.2 686.2 439.7 686.7 438.1C687.2 436.5 687.7 434.9 688.2 433.3C688.7 431.7 689.3 430.1 689.8 428.5C690.3 426.9 690.8 425.4 691.3 423.8C691.8 422.2 692.3 420.6 692.8 419.0C693.3 417.4 693.9 415.8 694.4 414.3C694.9 412.7 695.4 411.1 695.9 409.5C696.5 407.9 697.0 406.3 697.5 404.8C698.1 403.2 698.6 401.6 699.1 400.0C699.7 398.5 700.2 396.9 700.7 395.3C701.3 393.7 701.8 392.1 702.4 390.6C702.9 389.0 703.5 387.4 704.0 385.8C704.6 384.3 705.1 382.7 705.7 381.1C706.2 379.6 706.8 378.0 707.4 376.4C707.9 374.9 708.5 373.3 709.1 371.7C709.6 370.2 710.2 368.6 710.8 367.0C711.4 365.5 712.0 363.9 712.5 362.3C713.1 360.8 713.7 359.2 714.3 357.7C714.9 356.1 715.5 354.6 716.1 353.0C716.7 351.4 717.3 349.9 717.9 348.3C718.5 346.8 719.1 345.2 719.8 343.7C720.4 342.1 721.0 340.6 721.6 339.1C722.2 337.5 722.9 336.0 723.5 334.4C724.1 332.9 724.8 331.3 725.4 329.8C726.1 328.3 726.7 326.7 727.4 325.2C728.0 323.7 728.7 322.1 729.4 320.6C730.0 319.1 730.7 317.6 731.4 316.0C732.0 314.5 732.7 313.0 733.4 311.5C734.1 309.9 734.8 308.4 735.5 306.9C736.2 305.4 736.9 303.9 737.6 302.4C738.3 300.9 739.0 299.4 739.7 297.9C740.4 296.3 741.1 294.8 741.9 293.3C742.6 291.8 743.3 290.4 744.1 288.9C744.8 287.4 745.6 285.9 746.3 284.4C747.1 282.9 747.8 281.4 748.6 279.9C749.4 278.5 750.1 277.0 750.9 275.5C751.7 274.0 752.5 272.6 753.3 271.1C754.1 269.6 754.9 268.2 755.7 266.7C756.5 265.2 757.3 263.8 758.1 262.3C758.9 260.9 759.7 259.4 760.6 258.0C761.4 256.5 762.2 255.1 763.1 253.7C763.9 252.2 764.8 250.8 765.6 249.4C766.5 247.9 767.4 246.5 768.3 245.1C769.1 243.7 770.0 242.3 770.9 240.9C771.8 239.5 772.8 238.1 773.7 236.7C774.6 235.3 775.6 233.9 776.5 232.6C777.5 231.2 778.4 229.9 779.4 228.5C780.4 227.2 781.4 225.8 782.4 224.5C783.4 223.2 784.5 221.9 785.5 220.6C786.6 219.3 787.6 218.0 788.7 216.7C789.8 215.5 790.9 214.2 792.0 213.0C793.1 211.7 794.3 210.5 795.4 209.3C796.6 208.1 797.7 206.9 798.9 205.8C800.1 204.6 801.3 203.5 802.6 202.4C803.8 201.2 805.1 200.1 806.3 199.1C807.6 198.0 808.9 197.0 810.2 195.9C811.6 194.9 812.9 193.9 814.3 193.0C815.6 192.0 817.0 191.0 818.4 190.1C819.8 189.2 821.2 188.4 822.6 187.5C824.1 186.7 825.5 185.8 827.0 185.1C828.5 184.3 830.0 183.5 831.5 182.8C833.0 182.1 834.5 181.5 836.1 180.8C837.6 180.2 839.2 179.6 840.7 179.0C842.3 178.5 843.9 178.0 845.5 177.5C847.1 177.1 848.7 176.7 850.3 176.3C852.0 176.0 853.6 175.7 855.3 175.4C856.9 175.2 858.6 175.0 860.2 174.8C861.9 174.7 863.6 174.6 865.2 174.6C866.9 174.6 868.6 174.7 870.2 174.8C871.9 174.9 873.5 175.1 875.2 175.4C876.8 175.6 878.5 175.9 880.1 176.3C881.7 176.7 883.3 177.1 884.9 177.5C886.5 178.0 888.1 178.5 889.7 179.1C891.2 179.7 892.8 180.3 894.3 181.0C895.8 181.7 897.3 182.4 898.8 183.2C900.3 184.0 901.7 184.8 903.1 185.7C904.5 186.6 905.9 187.5 907.3 188.5C908.6 189.5 910.0 190.5 911.3 191.5C912.5 192.6 913.8 193.7 915.0 194.8C916.2 196.0 917.4 197.1 918.6 198.3C919.7 199.5 920.8 200.8 921.9 202.0C923.0 203.3 924.1 204.6 925.1 205.9C926.1 207.2 927.1 208.6 928.1 209.9C929.0 211.3 929.9 212.7 930.8 214.1C931.7 215.5 932.6 216.9 933.4 218.4C934.3 219.8 935.1 221.3 935.9 222.7C936.6 224.2 937.4 225.7 938.1 227.2C938.8 228.7 939.5 230.2 940.2 231.7C940.9 233.3 941.5 234.8 942.1 236.4C942.8 237.9 943.4 239.5 943.9 241.0C944.5 242.6 945.1 244.2 945.6 245.7C946.1 247.3 946.6 248.9 947.1 250.5C947.6 252.1 948.1 253.7 948.6 255.3C949.0 256.9 949.4 258.5 949.9 260.1C950.3 261.7 950.7 263.3 951.1 265.0C951.5 266.6 951.9 268.2 952.2 269.8C952.6 271.5 953.0 273.1 953.3 274.7C953.7 276.3 954.0 278.0 954.3 279.6C954.7 281.2 955.0 282.9 955.3 284.5C955.6 286.2 955.9 287.8 956.2 289.4C956.5 291.1 956.8 292.7 957.1 294.3C957.4 296.0 957.7 297.6 958.0 299.3C958.3 300.9 958.6 302.6 958.9 304.2C959.1 305.8 959.4 307.5 959.7 309.1C959.9 310.8 960.2 312.4 960.4 314.1C960.7 315.7 960.9 317.4 961.2 319.0C961.4 320.7 961.7 322.3 961.9 324.0C962.1 325.6 962.4 327.3 962.6 328.9C962.8 330.6 963.1 332.2 963.3 333.9C963.5 335.5 963.7 337.2 963.9 338.8C964.1 340.5 964.3 342.1 964.5 343.8C964.7 345.5 964.9 347.1 965.1 348.8C965.3 350.4 965.5 352.1 965.7 353.7C965.9 355.4 966.0 357.0 966.2 358.7C966.4 360.4 966.6 362.0 966.7 363.7C966.9 365.3 967.1 367.0 967.2 368.7C967.4 370.3 967.5 372.0 967.7 373.6C967.8 375.3 968.0 376.9 968.1 378.6C968.3 380.3 968.4 381.9 968.6 383.6C968.7 385.3 968.8 386.9 969.0 388.6C969.1 390.2 969.2 391.9 969.4 393.6C969.5 395.2 969.6 396.9 969.7 398.5C969.9 400.2 970.0 401.9 970.1 403.5C970.2 405.2 970.3 406.9 970.4 408.5C970.6 410.2 970.7 411.8 970.8 413.5C970.9 415.2 971.0 416.8 971.1 418.5C971.2 420.2 971.3 421.8 971.4 423.5C971.5 425.2 971.6 426.8 971.7 428.5C971.8 430.2 971.8 431.8 971.9 433.5C972.0 435.1 972.1 436.8 972.2 438.5C972.3 440.1 972.4 441.8 972.4 443.5C972.5 445.1 972.6 446.8 972.7 448.5C972.7 450.1 972.8 451.8 972.9 453.5C973.0 455.1 973.0 456.8 973.1 458.5C973.2 460.1 973.2 461.8 973.3 463.4C973.4 465.1 973.4 466.8 973.5 468.4C973.6 470.1 973.6 471.8 973.7 473.4C973.8 475.1 973.8 476.8 973.9 478.4C974.0 480.1 974.0 481.8 974.1 483.4C974.1 485.1 974.2 486.8 974.2 488.4C974.3 490.1 974.4 491.8 974.4 493.4C974.5 495.1 974.5 496.8 974.6 498.4C974.6 500.1 974.7 501.8 974.8 503.4C974.8 505.1 974.9 506.8 974.9 508.4C975.0 510.1 975.0 511.8 975.1 513.4C975.1 515.1 975.2 516.8 975.2 518.4C975.3 520.1 975.3 521.8 975.4 523.4C975.4 525.1 975.5 526.7 975.5 528.4C975.6 530.1 975.6 531.7 975.7 533.4C975.7 535.1 975.8 536.7 975.8 538.4C975.9 540.1 975.9 541.7 976.0 543.4C976.0 545.1 976.1 546.7 976.1 548.4C976.2 550.1 976.2 551.7 976.2 553.4C976.3 555.1 976.3 556.7 976.4 558.4C976.4 560.1 976.5 561.7 976.5 563.4C976.6 565.1 976.6 566.7 976.6 568.4C976.7 570.1 976.7 571.7 976.8 573.4C976.8 575.1 976.9 576.7 976.9 578.4C976.9 580.1 977.0 581.7 977.0 583.4C977.1 585.1 977.1 586.7 977.1 588.4C977.2 590.1 977.2 591.7 977.3 593.4C977.3 595.1 977.3 596.7 977.4 598.4C977.4 600.1 977.4 601.7 977.5 603.4C977.5 605.1 977.6 606.7 977.6 608.4C977.6 610.1 977.7 611.7 977.7 613.4C977.7 615.1 977.8 616.7 977.8 618.4C977.8 620.1 977.9 621.7 977.9 623.4C977.9 625.1 978.0 626.7 978.0 628.4C978.1 630.1 978.1 631.7 978.1 633.4C978.2 635.1 978.2 636.7 978.2 638.4C978.2 640.1 978.3 641.7 978.3 643.4C978.3 645.1 978.4 646.7 978.4 648.4C978.4 650.1 978.5 651.7 978.5 653.4C978.5 655.1 978.6 656.7 978.6 658.4C978.6 660.1 978.7 661.7 978.7 663.4C978.7 665.1 978.7 666.7 978.8 668.4C978.8 670.1 978.8 671.7 978.9 673.4C978.9 675.1 978.9 676.7 979.0 678.4C979.0 680.0 979.0 681.7 979.0 683.4C979.1 685.0 979.1 686.7 979.1 688.4C979.1 690.0 979.2 691.7 979.2 693.4C979.2 695.0 979.3 696.7 979.3 698.4C979.3 700.0 979.3 701.7 979.4 703.4C979.4 705.0 979.4 706.7 979.4 708.4C979.5 710.0 979.5 711.7 979.5 713.4C979.5 715.0 979.6 716.7 979.6 718.4C979.6 720.0 979.7 721.7 979.7 723.4C979.7 725.0 979.7 726.7 979.8 728.4C979.8 730.0 979.8 731.7 979.8 733.4C979.8 735.0 979.9 736.7 979.9 738.4C979.9 740.0 979.9 741.7 980.0 743.4C980.0 745.0 980.0 746.7 980.0 748.4C980.1 750.0 980.1 751.7 980.1 753.4C980.1 755.0 980.2 756.7 980.2 758.4C980.2 760.0 980.2 761.7 980.3 763.4C980.3 765.0 980.3 766.7 980.3 768.4C980.4 770.0 980.4 771.7 980.4 773.4C980.4 775.0 980.5 776.7 980.5 778.4C980.5 780.0 980.5 781.7 980.6 783.4C980.6 785.0 980.6 786.7 980.6 788.4C980.7 790.0 980.7 791.7 980.7 793.4C980.7 795.0 980.8 796.7 980.8 798.4C980.8 800.0 980.9 801.7 980.9 803.4C980.9 805.0 980.9 806.7 981.0 808.4C981.0 810.0 981.0 811.7 981.1 813.4C981.1 815.0 981.1 816.7 981.1 818.4C981.2 820.0 981.2 821.7 981.2 823.4C981.3 825.0 981.3 826.7 981.3 828.4C981.4 830.0 981.4 831.7 981.4 833.4C981.5 835.0 981.5 836.7 981.5 838.4C981.6 840.0 981.6 841.7 981.6 843.4C981.7 845.0 981.7 846.7 981.8 848.4C981.8 850.0 981.8 851.7 981.9 853.4C981.9 855.0 981.9 856.7 982.0 858.4C982.0 860.0 982.1 861.7 982.1 863.4C982.2 865.0 982.2 866.7 982.2 868.4C982.3 870.0 982.3 871.7 982.4 873.4C982.4 875.0 982.5 876.7 982.5 878.4C982.6 880.0 982.6 881.7 982.7 883.4C982.7 885.0 982.8 886.7 982.8 888.4C982.9 890.0 982.9 891.7 983.0 893.4C983.0 895.0 983.1 896.7 983.1 898.4C983.2 900.0 983.2 901.7 983.3 903.4C983.4 905.0 983.4 906.7 983.5 908.3C983.5 910.0 983.6 911.7 983.7 913.3C983.7 915.0 983.8 916.7 983.8 918.3C983.9 920.0 984.0 921.7 984.0 923.3C984.1 925.0 984.2 926.7 984.2 928.3C984.3 930.0 984.4 931.7 984.5 933.3C984.5 935.0 984.6 936.7 984.7 938.3C984.7 940.0 984.8 941.7 984.9 943.3C985.0 945.0 985.1 946.7 985.1 948.3C985.2 950.0 985.3 951.6 985.4 953.3C985.5 955.0 985.6 956.6 985.6 958.3C985.7 960.0 985.8 961.6 985.9 963.3C986.0 965.0 986.1 966.6 986.2 968.3C986.3 970.0 986.4 971.6 986.5 973.3C986.6 974.9 986.7 976.6 986.8 978.3C986.9 979.9 987.0 981.6 987.1 983.3C987.3 984.9 987.4 986.6 987.5 988.2C987.7 989.9 987.9 991.6 988.0 993.2C988.2 994.9 988.4 996.5 988.6 998.2C988.9 999.8 989.1 1001.5 989.4 1003.1C989.7 1004.8 990.0 1006.4 990.5 1008.0C991.1 1009.6 991.7 1011.2 992.6 1012.5C993.6 1013.9 994.8 1015.1 996.1 1016.1C997.4 1017.0 999.0 1017.7 1000.5 1018.3C1002.1 1018.9 1003.7 1019.3 1005.4 1019.7C1007.0 1020.1 1008.6 1020.4 1010.3 1020.6C1011.9 1020.8 1013.6 1021.0 1015.2 1021.2C1016.9 1021.4 1018.6 1021.5 1020.2 1021.6C1021.9 1021.7 1023.6 1021.7 1025.2 1021.8C1026.9 1021.8 1028.5 1021.9 1030.2 1021.9C1031.9 1021.9 1033.5 1021.9 1035.2 1021.9C1036.9 1021.9 1038.5 1021.8 1040.2 1021.8C1041.9 1021.8 1043.5 1021.7 1045.2 1021.6C1046.9 1021.5 1048.5 1021.4 1050.2 1021.3C1051.9 1021.2 1053.5 1021.1 1055.2 1021.0C1056.9 1020.9 1058.5 1020.7 1060.2 1020.6C1061.8 1020.5 1063.5 1020.3 1065.2 1020.2C1066.8 1020.0 1068.5 1019.9 1070.1 1019.7C1071.8 1019.5 1073.5 1019.4 1075.1 1019.2C1076.8 1019.1 1078.4 1018.9 1080.1 1018.7C1081.8 1018.6 1083.4 1018.4 1085.1 1018.3C1086.7 1018.1 1088.4 1018.0 1090.1 1017.8C1091.7 1017.7 1093.4 1017.5 1095.0 1017.4C1096.7 1017.3 1098.4 1017.1 1100.0 1017.0C1101.7 1016.9 1103.3 1016.8 1105.0 1016.7C1106.7 1016.5 1108.3 1016.4 1110.0 1016.3C1111.7 1016.2 1113.3 1016.1 1115.0 1016.1C1116.7 1016.0 1118.3 1015.9 1120.0 1015.8C1121.6 1015.8 1123.3 1015.7 1125.0 1015.7C1126.6 1015.6 1128.3 1015.6 1130.0 1015.6C1131.6 1015.5 1133.3 1015.5 1135.0 1015.5C1136.6 1015.5 1138.3 1015.5 1140.0 1015.5C1141.6 1015.5 1143.3 1015.5 1145.0 1015.5C1146.6 1015.6 1148.3 1015.6 1150.0 1015.6C1151.6 1015.7 1153.3 1015.7 1155.0 1015.8C1156.6 1015.8 1158.3 1015.9 1160.0 1016.0C1161.6 1016.0 1163.3 1016.1 1165.0 1016.2C1166.6 1016.3 1168.3 1016.4 1170.0 1016.5C1171.6 1016.6 1173.3 1016.7 1175.0 1016.8C1176.6 1016.9 1178.3 1017.1 1179.9 1017.2C1181.6 1017.3 1183.3 1017.5 1184.9 1017.6C1186.6 1017.8 1188.2 1017.9 1189.9 1018.1C1191.6 1018.2 1193.2 1018.4 1194.9 1018.6C1196.5 1018.8 1198.2 1019.0 1199.8 1019.1C1201.5 1019.3 1203.2 1019.5 1204.8 1019.7C1206.5 1019.9 1208.1 1020.1 1209.8 1020.4C1211.4 1020.6 1213.1 1020.8 1214.7 1021.0C1216.4 1021.2 1218.0 1021.4 1219.7 1021.6C1221.3 1021.8 1223.0 1022.0 1224.7 1022.2C1226.3 1022.4 1228.0 1022.6 1229.6 1022.8C1231.3 1023.0 1232.9 1023.2 1234.6 1023.4C1236.2 1023.6 1237.9 1023.8 1239.6 1023.9C1241.2 1024.1 1242.9 1024.3 1244.5 1024.4C1246.2 1024.6 1247.9 1024.7 1249.5 1024.8C1251.2 1024.9 1252.8 1025.1 1254.5 1025.2C1256.2 1025.3 1257.8 1025.4 1259.5 1025.5C1261.2 1025.6 1262.8 1025.7 1264.5 1025.7C1266.2 1025.8 1267.8 1025.9 1269.5 1025.9C1271.2 1026.0 1272.8 1026.1 1274.5 1026.1C1276.1 1026.2 1277.8 1026.2 1279.5 1026.3C1281.1 1026.3 1282.8 1026.3 1284.5 1026.4C1286.1 1026.4 1287.8 1026.4 1289.5 1026.5C1291.1 1026.5 1292.8 1026.5 1294.5 1026.6C1296.1 1026.6 1297.8 1026.6 1299.5 1026.6C1301.1 1026.7 1302.8 1026.7 1304.5 1026.7C1306.1 1026.7 1307.8 1026.8 1309.5 1026.8C1311.1 1026.8 1312.8 1026.8 1314.5 1026.9C1316.1 1026.9 1317.8 1026.9 1319.5 1026.9C1321.1 1026.9 1322.8 1027.0 1324.5 1027.0C1326.1 1027.0 1327.8 1027.0 1329.5 1027.1C1331.1 1027.1 1332.8 1027.1 1334.5 1027.1C1336.1 1027.1 1337.8 1027.2 1339.5 1027.2C1341.1 1027.2 1342.8 1027.2 1344.5 1027.2C1346.1 1027.3 1347.8 1027.3 1349.5 1027.3C1351.1 1027.3 1352.8 1027.3 1354.5 1027.3C1356.1 1027.4 1357.8 1027.4 1359.5 1027.4C1361.1 1027.4 1362.8 1027.4 1364.5 1027.5C1366.1 1027.5 1367.8 1027.5 1369.5 1027.5C1371.1 1027.5 1372.8 1027.5 1374.5 1027.5C1376.1 1027.6 1377.8 1027.6 1379.5 1027.6C1381.1 1027.6 1382.8 1027.6 1384.5 1027.6C1386.1 1027.7 1387.8 1027.7 1389.5 1027.7C1391.1 1027.7 1392.8 1027.7 1394.5 1027.7C1396.1 1027.7 1397.8 1027.8 1399.5 1027.8C1401.1 1027.8 1402.8 1027.8 1404.5 1027.8C1406.1 1027.8 1407.8 1027.8 1409.5 1027.8C1411.1 1027.9 1412.8 1027.9 1414.5 1027.9C1416.1 1027.9 1417.8 1027.9 1419.5 1027.9C1421.1 1027.9 1422.8 1027.9 1424.5 1027.9C1426.1 1028.0 1427.8 1028.0 1429.5 1028.0C1431.1 1028.0 1432.8 1028.0 1434.5 1028.0C1436.1 1028.0 1437.8 1028.0 1439.5 1028.0C1441.1 1028.0 1442.8 1028.1 1444.5 1028.1C1446.1 1028.1 1447.8 1028.1 1449.5 1028.1C1451.1 1028.1 1452.8 1028.1 1454.5 1028.1C1456.1 1028.1 1457.8 1028.1 1459.5 1028.1C1461.1 1028.1 1462.8 1028.2 1464.5 1028.2C1466.1 1028.2 1467.8 1028.2 1469.5 1028.2C1471.1 1028.2 1472.8 1028.2 1474.5 1028.2C1476.1 1028.2 1477.8 1028.2 1479.5 1028.2C1481.1 1028.2 1482.8 1028.2 1484.5 1028.2C1486.1 1028.3 1487.8 1028.3 1489.5 1028.3C1491.1 1028.3 1492.8 1028.3 1494.5 1028.3C1496.1 1028.3 1497.8 1028.3 1499.5 1028.3C1501.1 1028.3 1502.8 1028.3 1504.5 1028.3C1506.1 1028.3 1507.8 1028.3 1509.5 1028.3C1511.1 1028.3 1512.8 1028.3 1514.5 1028.3C1516.1 1028.3 1517.8 1028.3 1519.5 1028.4C1521.1 1028.4 1522.8 1028.4 1524.5 1028.4C1526.1 1028.4 1527.8 1028.4 1529.5 1028.4C1531.1 1028.4 1532.8 1028.4 1534.5 1028.4C1536.1 1028.4 1537.8 1028.4 1539.5 1028.4C1541.1 1028.4 1542.8 1028.4 1544.5 1028.4C1546.2 1028.4 1547.8 1028.4 1549.5 1028.4C1551.2 1028.4 1552.8 1028.4 1554.5 1028.4C1556.2 1028.4 1557.8 1028.4 1559.5 1028.4C1561.2 1028.4 1562.8 1028.4 1564.5 1028.4C1566.2 1028.4 1567.8 1028.4 1569.5 1028.4C1571.2 1028.4 1572.8 1028.4 1574.5 1028.4C1576.2 1028.4 1577.8 1028.4 1579.5 1028.4C1581.2 1028.5 1582.8 1028.5 1584.5 1028.5C1586.2 1028.5 1587.8 1028.5 1589.5 1028.5C1591.2 1028.5 1592.8 1028.5 1594.5 1028.5C1596.2 1028.5 1597.8 1028.5 1599.5 1028.5C1601.2 1028.5 1602.8 1028.5 1604.5 1028.5C1606.2 1028.5 1607.8 1028.5 1609.5 1028.5C1611.2 1028.5 1612.8 1028.5 1614.5 1028.5C1616.2 1028.5 1617.8 1028.5 1619.5 1028.5C1621.2 1028.5 1622.8 1028.5 1624.5 1028.5C1626.2 1028.5 1627.8 1028.5 1629.5 1028.5C1631.2 1028.5 1632.8 1028.5 1634.5 1028.5C1636.2 1028.5 1637.8 1028.5 1639.5 1028.5C1641.2 1028.5 1642.8 1028.5 1644.5 1028.5C1646.2 1028.5 1647.8 1028.5 1649.5 1028.5C1651.2 1028.5 1652.8 1028.5 1654.5 1028.5C1656.2 1028.5 1657.8 1028.5 1659.5 1028.5C1661.2 1028.5 1662.8 1028.5 1664.5 1028.5C1666.2 1028.5 1667.8 1028.5 1669.5 1028.5C1671.2 1028.5 1672.8 1028.5 1674.5 1028.5C1676.2 1028.5 1677.8 1028.5 1679.5 1028.5C1681.2 1028.5 1682.8 1028.5 1684.5 1028.5C1686.2 1028.5 1687.8 1028.5 1689.5 1028.5C1691.2 1028.5 1692.8 1028.5 1694.5 1028.5C1696.2 1028.5 1697.8 1028.5 1699.5 1028.5C1701.2 1028.5 1702.8 1028.5 1704.5 1028.5C1706.2 1028.5 1707.8 1028.5 1709.5 1028.5C1711.2 1028.5 1712.8 1028.5 1714.5 1028.5C1716.2 1028.5 1717.8 1028.5 1719.5 1028.5C1721.2 1028.5 1722.8 1028.5 1724.5 1028.5C1726.2 1028.5 1727.8 1028.5 1729.5 1028.5C1731.2 1028.5 1732.8 1028.5 1734.5 1028.5C1736.2 1028.5 1737.8 1028.5 1739.5 1028.5C1741.2 1028.5 1742.8 1028.5 1744.5 1028.5C1746.2 1028.6 1747.8 1028.6 1749.5 1028.6C1751.2 1028.6 1752.8 1028.6 1754.5 1028.6C1756.2 1028.6 1757.8 1028.6 1759.5 1028.6C1761.2 1028.6 1762.8 1028.6 1764.5 1028.6C1766.2 1028.6 1767.8 1028.6 1769.5 1028.6C1771.2 1028.6 1772.8 1028.6 1774.5 1028.6C1776.2 1028.6 1777.8 1028.6 1779.5 1028.6C1781.2 1028.6 1782.8 1028.6 1784.5 1028.6C1786.2 1028.6 1787.8 1028.6 1789.5 1028.6C1791.2 1028.6 1792.8 1028.6 1794.5 1028.6C1796.2 1028.6 1797.8 1028.7 1799.5 1028.7C1801.2 1028.7 1802.8 1028.7 1804.5 1028.7C1806.2 1028.7 1807.8 1028.7 1809.5 1028.7C1811.2 1028.7 1812.8 1028.7 1814.5 1028.7C1816.2 1028.7 1817.8 1028.7 1819.5 1028.7C1821.2 1028.7 1822.8 1028.7 1824.5 1028.7C1826.2 1028.7 1827.8 1028.8 1829.5 1028.8C1831.2 1028.8 1832.8 1028.8 1834.5 1028.8C1836.2 1028.8 1838.7 1028.8 1839.5 1028.8"/>
</g>
<g stroke="#000" stroke-width="5" fill="none" stroke-linecap="butt">
<rect x="336.4" y="49.4" width="1504.2" height="1103.1"/>
<line x1="312" y1="1152.5" x2="336.4" y2="1152.5"/>
<line x1="312" y1="968.7" x2="336.4" y2="968.7"/>
<line x1="312" y1="784.8" x2="336.4" y2="784.8"/>
<line x1="312" y1="601.0" x2="336.4" y2="601.0"/>
<line x1="312" y1="417.1" x2="336.4" y2="417.1"/>
<line x1="312" y1="233.3" x2="336.4" y2="233.3"/>
<line x1="312" y1="49.4" x2="336.4" y2="49.4"/>
<line x1="323" y1="1060.6" x2="336.4" y2="1060.6"/>
<line x1="323" y1="876.7" x2="336.4" y2="876.7"/>
<line x1="323" y1="692.9" x2="336.4" y2="692.9"/>
<line x1="323" y1="509.0" x2="336.4" y2="509.0"/>
<line x1="323" y1="325.2" x2="336.4" y2="325.2"/>
<line x1="323" y1="141.3" x2="336.4" y2="141.3"/>
<line x1="336.4" y1="1152.5" x2="336.4" y2="1177.5"/>
<line x1="551.3" y1="1152.5" x2="551.3" y2="1177.5"/>
<line x1="766.2" y1="1152.5" x2="766.2" y2="1177.5"/>
<line x1="981.1" y1="1152.5" x2="981.1" y2="1177.5"/>
<line x1="1195.9" y1="1152.5" x2="1195.9" y2="1177.5"/>
<line x1="1410.8" y1="1152.5" x2="1410.8" y2="1177.5"/>
<line x1="1625.7" y1="1152.5" x2="1625.7" y2="1177.5"/>
<line x1="1840.6" y1="1152.5" x2="1840.6" y2="1177.5"/>
<line x1="443.8" y1="1152.5" x2="443.8" y2="1166.5"/>
<line x1="658.7" y1="1152.5" x2="658.7" y2="1166.5"/>
<line x1="873.6" y1="1152.5" x2="873.6" y2="1166.5"/>
<line x1="1088.5" y1="1152.5" x2="1088.5" y2="1166.5"/>
<line x1="1303.4" y1="1152.5" x2="1303.4" y2="1166.5"/>
<line x1="1518.3" y1="1152.5" x2="1518.3" y2="1166.5"/>
<line x1="1733.2" y1="1152.5" x2="1733.2" y2="1166.5"/>
</g>
<g font-size="64">
<text x="299" y="1170.7" text-anchor="end">0.00</text>
<text x="299" y="986.9" text-anchor="end">0.15</text>
<text x="299" y="803.0" text-anchor="end">0.30</text>
<text x="299" y="619.2" text-anchor="end">0.45</text>
<text x="299" y="435.3" text-anchor="end">0.60</text>
<text x="299" y="251.5" text-anchor="end">0.75</text>
<text x="299" y="67.6" text-anchor="end">0.90</text>
<text x="336.4" y="1242.5" text-anchor="middle">100</text>
<text x="551.3" y="1242.5" text-anchor="middle">200</text>
<text x="766.2" y="1242.5" text-anchor="middle">300</text>
<text x="981.1" y="1242.5" text-anchor="middle">400</text>
<text x="1195.9" y="1242.5" text-anchor="middle">500</text>
<text x="1410.8" y="1242.5" text-anchor="middle">600</text>
<text x="1625.7" y="1242.5" text-anchor="middle">700</text>
<text x="1840.6" y="1242.5" text-anchor="middle">800</text>
</g>
<text class="b" y="1354.6"><tspan font-size="77" x="749.5" textLength="468" lengthAdjust="spacingAndGlyphs">Temperature</tspan><tspan font-size="90" x="1215.2" dy="-1.5" textLength="52" lengthAdjust="spacingAndGlyphs"> (</tspan><tspan font-size="80" x="1267" dy="-9.8">°</tspan><tspan font-size="77" x="1297" dy="11.3" textLength="46" lengthAdjust="spacingAndGlyphs">C</tspan><tspan font-size="90" x="1347.2" dy="-1.5" textLength="26" lengthAdjust="spacingAndGlyphs">)</tspan></text>
<text class="b" font-size="98" transform="translate(110.7 990) rotate(-90)" textLength="709" lengthAdjust="spacingAndGlyphs">H<tspan font-size="60" dy="37">2</tspan><tspan dy="-37"> uptake (a.u.)</tspan></text>
<line x1="1136.4" x2="1267.6" y1="120.5" y2="120.5" stroke="#000" stroke-width="7" stroke-linecap="round"/>
<text font-size="63" y="139"><tspan x="1283" textLength="241" lengthAdjust="spacingAndGlyphs">Calcined</tspan><tspan> </tspan><tspan x="1542" textLength="176" lengthAdjust="spacingAndGlyphs">Ru/Co</tspan><tspan font-size="38" x="1718" dy="23.7">3</tspan><tspan x="1740" dy="-23.7">O</tspan><tspan font-size="38" x="1785.5" dy="23.7">4</tspan></text>
<line x1="1136.4" x2="1267.6" y1="233.3" y2="233.3" stroke="#f00" stroke-width="7" stroke-linecap="round"/>
<text font-size="63" y="252"><tspan x="1284" textLength="247" lengthAdjust="spacingAndGlyphs">Reduced</tspan><tspan> </tspan><tspan x="1549" textLength="176" lengthAdjust="spacingAndGlyphs">Ru/Co</tspan><tspan font-size="38" x="1725" dy="23.7">3</tspan><tspan x="1747" dy="-23.7">O</tspan><tspan font-size="38" x="1792.5" dy="23.7">4</tspan></text>
<line x1="1136.4" x2="1267.6" y1="346.4" y2="346.4" stroke="#00f" stroke-width="7" stroke-linecap="round"/>
<text font-size="63" y="364.6"><tspan x="1284" textLength="251" lengthAdjust="spacingAndGlyphs">Recycled</tspan><tspan> </tspan><tspan x="1552.5" textLength="176" lengthAdjust="spacingAndGlyphs">Ru/Co</tspan><tspan font-size="38" x="1728.5" dy="23.7">3</tspan><tspan x="1750.5" dy="-23.7">O</tspan><tspan font-size="38" x="1796" dy="23.7">4</tspan></text>
</svg></body></html>
